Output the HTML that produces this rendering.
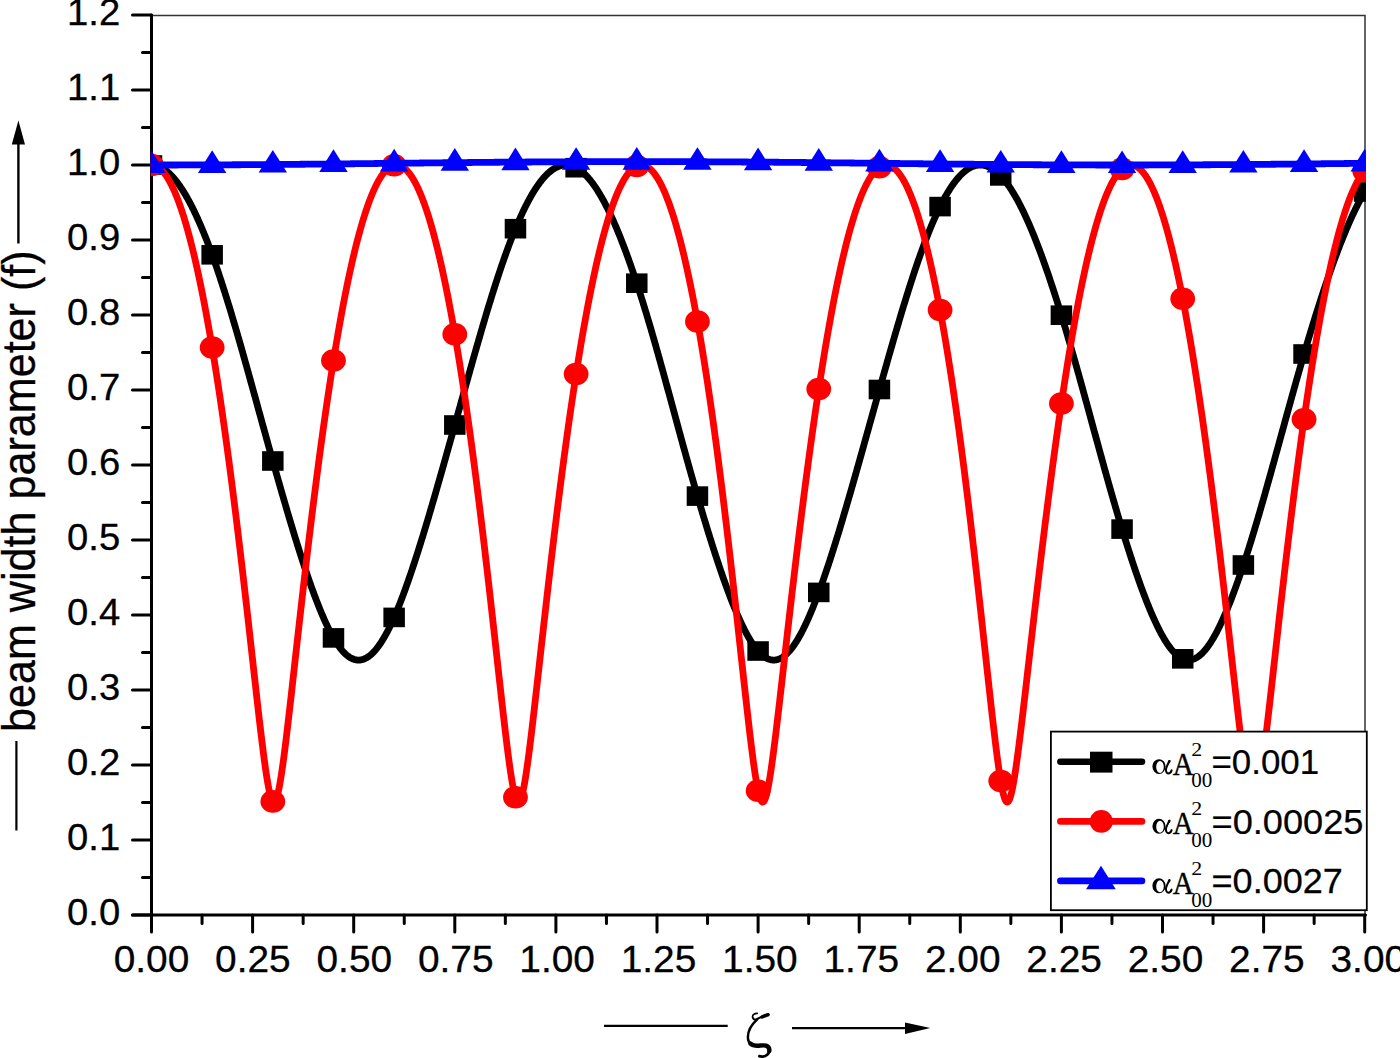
<!DOCTYPE html>
<html><head><meta charset="utf-8"><style>html,body{margin:0;padding:0;background:#fff;overflow:hidden;}svg{display:block;}</style></head>
<body>
<svg width="1400" height="1058" viewBox="0 0 1400 1058">
<rect width="1400" height="1058" fill="#fff"/>
<defs><clipPath id="pc"><rect x="150.7" y="15" width="1215.2" height="900"/></clipPath></defs>
<path d="M151.5,15.6 H1365 V915" fill="none" stroke="#333" stroke-width="1.5"/>
<path d="M132.5,15 H151.5 M132.5,90 H151.5 M132.5,165 H151.5 M132.5,240 H151.5 M132.5,315 H151.5 M132.5,390 H151.5 M132.5,465 H151.5 M132.5,540 H151.5 M132.5,615 H151.5 M132.5,690 H151.5 M132.5,765 H151.5 M132.5,840 H151.5 M132.5,915 H151.5 M142.5,52.5 H151.5 M142.5,127.5 H151.5 M142.5,202.5 H151.5 M142.5,277.5 H151.5 M142.5,352.5 H151.5 M142.5,427.5 H151.5 M142.5,502.5 H151.5 M142.5,577.5 H151.5 M142.5,652.5 H151.5 M142.5,727.5 H151.5 M142.5,802.5 H151.5 M142.5,877.5 H151.5 M151.50,915 V932 M252.60,915 V932 M353.70,915 V932 M454.80,915 V932 M555.90,915 V932 M657.00,915 V932 M758.10,915 V932 M859.20,915 V932 M960.30,915 V932 M1061.40,915 V932 M1162.50,915 V932 M1263.60,915 V932 M1364.70,915 V932 M202.05,915 V923.5 M303.15,915 V923.5 M404.25,915 V923.5 M505.35,915 V923.5 M606.45,915 V923.5 M707.55,915 V923.5 M808.65,915 V923.5 M909.75,915 V923.5 M1010.85,915 V923.5 M1111.95,915 V923.5 M1213.05,915 V923.5 M1314.15,915 V923.5" fill="none" stroke="#000" stroke-width="3" stroke-linecap="round"/>
<path d="M151.5,15 V915 M132.5,915 H1365.5" fill="none" stroke="#000" stroke-width="3" stroke-linecap="round"/>
<g font-family="Liberation Sans" font-size="37.5" fill="#000" stroke="#000" stroke-width="0.3"><text transform="translate(120.2,25.0) scale(1.02,1)" text-anchor="end">1.2</text><text transform="translate(120.2,100.0) scale(1.02,1)" text-anchor="end">1.1</text><text transform="translate(120.2,175.0) scale(1.02,1)" text-anchor="end">1.0</text><text transform="translate(120.2,250.0) scale(1.02,1)" text-anchor="end">0.9</text><text transform="translate(120.2,325.0) scale(1.02,1)" text-anchor="end">0.8</text><text transform="translate(120.2,400.0) scale(1.02,1)" text-anchor="end">0.7</text><text transform="translate(120.2,475.0) scale(1.02,1)" text-anchor="end">0.6</text><text transform="translate(120.2,550.0) scale(1.02,1)" text-anchor="end">0.5</text><text transform="translate(120.2,625.0) scale(1.02,1)" text-anchor="end">0.4</text><text transform="translate(120.2,700.0) scale(1.02,1)" text-anchor="end">0.3</text><text transform="translate(120.2,775.0) scale(1.02,1)" text-anchor="end">0.2</text><text transform="translate(120.2,850.0) scale(1.02,1)" text-anchor="end">0.1</text><text transform="translate(120.2,925.0) scale(1.02,1)" text-anchor="end">0.0</text><text transform="translate(151.50,971.5) scale(1.036,1)" text-anchor="middle">0.00</text><text transform="translate(252.90,971.5) scale(1.036,1)" text-anchor="middle">0.25</text><text transform="translate(354.30,971.5) scale(1.036,1)" text-anchor="middle">0.50</text><text transform="translate(455.70,971.5) scale(1.036,1)" text-anchor="middle">0.75</text><text transform="translate(557.10,971.5) scale(1.036,1)" text-anchor="middle">1.00</text><text transform="translate(658.50,971.5) scale(1.036,1)" text-anchor="middle">1.25</text><text transform="translate(759.90,971.5) scale(1.036,1)" text-anchor="middle">1.50</text><text transform="translate(861.30,971.5) scale(1.036,1)" text-anchor="middle">1.75</text><text transform="translate(962.70,971.5) scale(1.036,1)" text-anchor="middle">2.00</text><text transform="translate(1064.10,971.5) scale(1.036,1)" text-anchor="middle">2.25</text><text transform="translate(1165.50,971.5) scale(1.036,1)" text-anchor="middle">2.50</text><text transform="translate(1266.90,971.5) scale(1.036,1)" text-anchor="middle">2.75</text><text transform="translate(1368.30,971.5) scale(1.036,1)" text-anchor="middle">3.00</text></g>
<g clip-path="url(#pc)">
<path d="M147.46,165.45 L148.13,165.31 L148.81,165.20 L149.49,165.11 L150.17,165.05 L150.85,165.01 L151.53,165.00 L152.21,165.01 L152.89,165.05 L153.57,165.12 L154.24,165.21 L154.92,165.32 L155.60,165.46 L156.28,165.63 L156.96,165.81 L157.64,166.03 L158.32,166.27 L159.00,166.53 L159.68,166.82 L160.35,167.13 L161.03,167.46 L161.71,167.82 L162.39,168.21 L163.07,168.62 L163.75,169.05 L164.43,169.50 L165.11,169.98 L165.79,170.49 L166.46,171.01 L167.14,171.56 L167.82,172.14 L168.50,172.73 L169.18,173.35 L169.86,173.99 L170.54,174.66 L171.22,175.34 L171.90,176.05 L172.57,176.79 L173.25,177.54 L173.93,178.32 L174.61,179.12 L175.29,179.94 L175.97,180.79 L176.65,181.65 L177.33,182.54 L178.01,183.45 L178.68,184.38 L179.36,185.33 L180.04,186.30 L180.72,187.30 L181.40,188.32 L182.08,189.35 L182.76,190.41 L183.44,191.49 L184.12,192.59 L184.79,193.71 L185.47,194.85 L186.15,196.01 L186.83,197.19 L187.51,198.39 L188.19,199.62 L188.87,200.86 L189.55,202.12 L190.22,203.40 L190.90,204.70 L191.58,206.02 L192.26,207.36 L192.94,208.72 L193.62,210.10 L194.30,211.50 L194.98,212.92 L195.66,214.35 L196.33,215.81 L197.01,217.28 L197.69,218.77 L198.37,220.28 L199.05,221.81 L199.73,223.36 L200.41,224.93 L201.09,226.51 L201.77,228.11 L202.44,229.73 L203.12,231.37 L203.80,233.02 L204.48,234.69 L205.16,236.38 L205.84,238.09 L206.52,239.82 L207.20,241.56 L207.88,243.32 L208.55,245.09 L209.23,246.88 L209.91,248.69 L210.59,250.52 L211.27,252.36 L211.95,254.22 L212.63,256.09 L213.31,257.98 L213.99,259.89 L214.66,261.82 L215.34,263.76 L216.02,265.71 L216.70,267.69 L217.38,269.67 L218.06,271.68 L218.74,273.69 L219.42,275.73 L220.10,277.77 L220.77,279.83 L221.45,281.91 L222.13,284.00 L222.81,286.10 L223.49,288.22 L224.17,290.35 L224.85,292.49 L225.53,294.65 L226.20,296.81 L226.88,299.00 L227.56,301.19 L228.24,303.39 L228.92,305.61 L229.60,307.83 L230.28,310.07 L230.96,312.32 L231.64,314.58 L232.31,316.85 L232.99,319.13 L233.67,321.41 L234.35,323.71 L235.03,326.02 L235.71,328.34 L236.39,330.66 L237.07,333.00 L237.75,335.34 L238.42,337.69 L239.10,340.04 L239.78,342.41 L240.46,344.78 L241.14,347.16 L241.82,349.54 L242.50,351.93 L243.18,354.33 L243.86,356.73 L244.53,359.14 L245.21,361.56 L245.89,363.98 L246.57,366.40 L247.25,368.83 L247.93,371.26 L248.61,373.69 L249.29,376.13 L249.97,378.58 L250.64,381.02 L251.32,383.47 L252.00,385.92 L252.68,388.38 L253.36,390.83 L254.04,393.29 L254.72,395.75 L255.40,398.21 L256.08,400.67 L256.75,403.14 L257.43,405.60 L258.11,408.06 L258.79,410.53 L259.47,412.99 L260.15,415.45 L260.83,417.91 L261.51,420.37 L262.19,422.83 L262.86,425.29 L263.54,427.75 L264.22,430.20 L264.90,432.65 L265.58,435.10 L266.26,437.55 L266.94,439.99 L267.62,442.43 L268.29,444.87 L268.97,447.30 L269.65,449.73 L270.33,452.15 L271.01,454.57 L271.69,456.99 L272.37,459.40 L273.05,461.80 L273.73,464.21 L274.40,466.60 L275.08,469.00 L275.76,471.39 L276.44,473.78 L277.12,476.16 L277.80,478.54 L278.48,480.92 L279.16,483.29 L279.84,485.66 L280.51,488.02 L281.19,490.38 L281.87,492.73 L282.55,495.08 L283.23,497.42 L283.91,499.76 L284.59,502.09 L285.27,504.42 L285.95,506.73 L286.62,509.04 L287.30,511.35 L287.98,513.65 L288.66,515.94 L289.34,518.22 L290.02,520.49 L290.70,522.76 L291.38,525.02 L292.06,527.27 L292.73,529.51 L293.41,531.75 L294.09,533.97 L294.77,536.18 L295.45,538.39 L296.13,540.58 L296.81,542.77 L297.49,544.95 L298.17,547.11 L298.84,549.26 L299.52,551.41 L300.20,553.54 L300.88,555.66 L301.56,557.77 L302.24,559.86 L302.92,561.95 L303.60,564.02 L304.28,566.08 L304.95,568.12 L305.63,570.15 L306.31,572.17 L306.99,574.17 L307.67,576.16 L308.35,578.14 L309.03,580.10 L309.71,582.04 L310.38,583.97 L311.06,585.88 L311.74,587.78 L312.42,589.66 L313.10,591.52 L313.78,593.37 L314.46,595.20 L315.14,597.01 L315.82,598.80 L316.49,600.58 L317.17,602.33 L317.85,604.07 L318.53,605.78 L319.21,607.48 L319.89,609.16 L320.57,610.81 L321.25,612.45 L321.93,614.06 L322.60,615.65 L323.28,617.22 L323.96,618.77 L324.64,620.29 L325.32,621.80 L326.00,623.27 L326.68,624.73 L327.36,626.16 L328.04,627.56 L328.71,628.94 L329.39,630.30 L330.07,631.63 L330.75,632.93 L331.43,634.21 L332.11,635.46 L332.79,636.68 L333.47,637.88 L334.15,639.04 L334.82,640.18 L335.50,641.29 L336.18,642.36 L336.86,643.41 L337.54,644.43 L338.22,645.41 L338.90,646.36 L339.58,647.29 L340.26,648.18 L340.93,649.04 L341.61,649.87 L342.29,650.67 L342.97,651.43 L343.65,652.17 L344.33,652.87 L345.01,653.54 L345.69,654.17 L346.37,654.78 L347.04,655.35 L347.72,655.89 L348.40,656.40 L349.08,656.88 L349.76,657.32 L350.44,657.73 L351.12,658.11 L351.80,658.45 L352.47,658.76 L353.15,659.04 L353.83,659.28 L354.51,659.50 L355.19,659.68 L355.87,659.82 L356.55,659.93 L357.23,660.01 L357.91,660.06 L358.58,660.07 L359.26,660.06 L359.94,660.00 L360.62,659.92 L361.30,659.80 L361.98,659.65 L362.66,659.47 L363.34,659.25 L364.02,659.00 L364.69,658.72 L365.37,658.41 L366.05,658.06 L366.73,657.68 L367.41,657.27 L368.09,656.83 L368.77,656.36 L369.45,655.85 L370.13,655.32 L370.80,654.75 L371.48,654.15 L372.16,653.52 L372.84,652.86 L373.52,652.16 L374.20,651.44 L374.88,650.69 L375.56,649.90 L376.24,649.09 L376.91,648.24 L377.59,647.37 L378.27,646.47 L378.95,645.53 L379.63,644.57 L380.31,643.58 L380.99,642.56 L381.67,641.51 L382.35,640.44 L383.02,639.33 L383.70,638.20 L384.38,637.04 L385.06,635.85 L385.74,634.63 L386.42,633.39 L387.10,632.12 L387.78,630.82 L388.46,629.50 L389.13,628.15 L389.81,626.78 L390.49,625.37 L391.17,623.95 L391.85,622.49 L392.53,621.01 L393.21,619.51 L393.89,617.98 L394.56,616.42 L395.24,614.85 L395.92,613.25 L396.60,611.63 L397.28,609.99 L397.96,608.33 L398.64,606.65 L399.32,604.94 L400.00,603.22 L400.67,601.48 L401.35,599.72 L402.03,597.94 L402.71,596.14 L403.39,594.33 L404.07,592.49 L404.75,590.64 L405.43,588.77 L406.11,586.89 L406.78,584.99 L407.46,583.07 L408.14,581.14 L408.82,579.19 L409.50,577.22 L410.18,575.24 L410.86,573.25 L411.54,571.24 L412.22,569.22 L412.89,567.18 L413.57,565.13 L414.25,563.07 L414.93,560.99 L415.61,558.91 L416.29,556.81 L416.97,554.69 L417.65,552.57 L418.33,550.43 L419.00,548.28 L419.68,546.13 L420.36,543.96 L421.04,541.78 L421.72,539.59 L422.40,537.39 L423.08,535.18 L423.76,532.96 L424.44,530.73 L425.11,528.49 L425.79,526.24 L426.47,523.99 L427.15,521.73 L427.83,519.45 L428.51,517.17 L429.19,514.89 L429.87,512.59 L430.54,510.29 L431.22,507.98 L431.90,505.66 L432.58,503.34 L433.26,501.01 L433.94,498.68 L434.62,496.34 L435.30,493.99 L435.98,491.64 L436.65,489.28 L437.33,486.92 L438.01,484.55 L438.69,482.18 L439.37,479.80 L440.05,477.42 L440.73,475.04 L441.41,472.65 L442.09,470.25 L442.76,467.86 L443.44,465.46 L444.12,463.06 L444.80,460.65 L445.48,458.24 L446.16,455.83 L446.84,453.42 L447.52,451.00 L448.20,448.58 L448.87,446.16 L449.55,443.74 L450.23,441.32 L450.91,438.90 L451.59,436.47 L452.27,434.05 L452.95,431.62 L453.63,429.19 L454.31,426.77 L454.98,424.34 L455.66,421.91 L456.34,419.48 L457.02,417.05 L457.70,414.62 L458.38,412.18 L459.06,409.74 L459.74,407.31 L460.42,404.87 L461.09,402.43 L461.77,400.00 L462.45,397.56 L463.13,395.12 L463.81,392.69 L464.49,390.25 L465.17,387.82 L465.85,385.38 L466.53,382.95 L467.20,380.52 L467.88,378.10 L468.56,375.67 L469.24,373.25 L469.92,370.83 L470.60,368.42 L471.28,366.01 L471.96,363.60 L472.63,361.19 L473.31,358.79 L473.99,356.40 L474.67,354.01 L475.35,351.62 L476.03,349.24 L476.71,346.87 L477.39,344.50 L478.07,342.13 L478.74,339.78 L479.42,337.43 L480.10,335.08 L480.78,332.75 L481.46,330.42 L482.14,328.10 L482.82,325.78 L483.50,323.48 L484.18,321.18 L484.85,318.89 L485.53,316.61 L486.21,314.34 L486.89,312.08 L487.57,309.83 L488.25,307.59 L488.93,305.36 L489.61,303.13 L490.29,300.92 L490.96,298.72 L491.64,296.54 L492.32,294.36 L493.00,292.19 L493.68,290.04 L494.36,287.90 L495.04,285.77 L495.72,283.65 L496.40,281.55 L497.07,279.46 L497.75,277.38 L498.43,275.32 L499.11,273.27 L499.79,271.24 L500.47,269.22 L501.15,267.21 L501.83,265.22 L502.51,263.24 L503.18,261.28 L503.86,259.33 L504.54,257.40 L505.22,255.49 L505.90,253.59 L506.58,251.71 L507.26,249.85 L507.94,248.00 L508.62,246.17 L509.29,244.35 L509.97,242.56 L510.65,240.78 L511.33,239.02 L512.01,237.27 L512.69,235.55 L513.37,233.84 L514.05,232.16 L514.72,230.49 L515.40,228.84 L516.08,227.20 L516.76,225.59 L517.44,224.00 L518.12,222.42 L518.80,220.86 L519.48,219.32 L520.16,217.80 L520.83,216.30 L521.51,214.82 L522.19,213.36 L522.87,211.91 L523.55,210.49 L524.23,209.09 L524.91,207.70 L525.59,206.34 L526.27,205.00 L526.94,203.67 L527.62,202.37 L528.30,201.09 L528.98,199.83 L529.66,198.59 L530.34,197.37 L531.02,196.17 L531.70,194.99 L532.38,193.84 L533.05,192.70 L533.73,191.59 L534.41,190.50 L535.09,189.43 L535.77,188.38 L536.45,187.35 L537.13,186.35 L537.81,185.37 L538.49,184.41 L539.16,183.47 L539.84,182.55 L540.52,181.66 L541.20,180.79 L541.88,179.94 L542.56,179.12 L543.24,178.31 L543.92,177.53 L544.60,176.78 L545.27,176.04 L545.95,175.33 L546.63,174.65 L547.31,173.98 L547.99,173.34 L548.67,172.72 L549.35,172.13 L550.03,171.56 L550.71,171.01 L551.38,170.49 L552.06,169.99 L552.74,169.51 L553.42,169.06 L554.10,168.63 L554.78,168.23 L555.46,167.84 L556.14,167.49 L556.81,167.15 L557.49,166.84 L558.17,166.56 L558.85,166.30 L559.53,166.06 L560.21,165.85 L560.89,165.66 L561.57,165.49 L562.25,165.35 L562.92,165.23 L563.60,165.14 L564.28,165.07 L564.96,165.02 L565.64,165.00 L566.32,165.00 L567.00,165.03 L567.68,165.08 L568.36,165.16 L569.03,165.26 L569.71,165.38 L570.39,165.53 L571.07,165.70 L571.75,165.89 L572.43,166.11 L573.11,166.35 L573.79,166.62 L574.47,166.91 L575.14,167.22 L575.82,167.56 L576.50,167.92 L577.18,168.30 L577.86,168.71 L578.54,169.14 L579.22,169.60 L579.90,170.08 L580.58,170.58 L581.25,171.11 L581.93,171.65 L582.61,172.23 L583.29,172.82 L583.97,173.44 L584.65,174.08 L585.33,174.74 L586.01,175.43 L586.69,176.14 L587.36,176.87 L588.04,177.62 L588.72,178.40 L589.40,179.20 L590.08,180.02 L590.76,180.86 L591.44,181.73 L592.12,182.62 L592.80,183.52 L593.47,184.46 L594.15,185.41 L594.83,186.38 L595.51,187.38 L596.19,188.40 L596.87,189.43 L597.55,190.49 L598.23,191.58 L598.90,192.68 L599.58,193.80 L600.26,194.94 L600.94,196.11 L601.62,197.29 L602.30,198.50 L602.98,199.72 L603.66,200.96 L604.34,202.23 L605.01,203.51 L605.69,204.82 L606.37,206.14 L607.05,207.49 L607.73,208.85 L608.41,210.23 L609.09,211.63 L609.77,213.05 L610.45,214.49 L611.12,215.95 L611.80,217.42 L612.48,218.91 L613.16,220.43 L613.84,221.96 L614.52,223.50 L615.20,225.07 L615.88,226.65 L616.56,228.25 L617.23,229.87 L617.91,231.51 L618.59,233.16 L619.27,234.83 L619.95,236.51 L620.63,238.22 L621.31,239.93 L621.99,241.67 L622.67,243.42 L623.34,245.19 L624.02,246.97 L624.70,248.77 L625.38,250.58 L626.06,252.41 L626.74,254.26 L627.42,256.12 L628.10,257.99 L628.78,259.88 L629.45,261.78 L630.13,263.70 L630.81,265.63 L631.49,267.58 L632.17,269.54 L632.85,271.51 L633.53,273.50 L634.21,275.50 L634.89,277.51 L635.56,279.54 L636.24,281.58 L636.92,283.63 L637.60,285.70 L638.28,287.78 L638.96,289.88 L639.64,291.99 L640.32,294.11 L640.99,296.25 L641.67,298.41 L642.35,300.58 L643.03,302.76 L643.71,304.95 L644.39,307.16 L645.07,309.38 L645.75,311.62 L646.43,313.86 L647.10,316.12 L647.78,318.39 L648.46,320.67 L649.14,322.96 L649.82,325.27 L650.50,327.58 L651.18,329.90 L651.86,332.24 L652.54,334.58 L653.21,336.93 L653.89,339.29 L654.57,341.66 L655.25,344.04 L655.93,346.43 L656.61,348.83 L657.29,351.23 L657.97,353.64 L658.65,356.06 L659.32,358.48 L660.00,360.92 L660.68,363.35 L661.36,365.80 L662.04,368.25 L662.72,370.70 L663.40,373.16 L664.08,375.62 L664.76,378.09 L665.43,380.56 L666.11,383.04 L666.79,385.52 L667.47,388.00 L668.15,390.49 L668.83,392.97 L669.51,395.46 L670.19,397.96 L670.87,400.45 L671.54,402.94 L672.22,405.44 L672.90,407.94 L673.58,410.43 L674.26,412.93 L674.94,415.43 L675.62,417.93 L676.30,420.42 L676.97,422.92 L677.65,425.41 L678.33,427.90 L679.01,430.39 L679.69,432.88 L680.37,435.36 L681.05,437.84 L681.73,440.32 L682.41,442.80 L683.08,445.27 L683.76,447.73 L684.44,450.20 L685.12,452.65 L685.80,455.11 L686.48,457.55 L687.16,459.99 L687.84,462.43 L688.52,464.86 L689.19,467.28 L689.87,469.70 L690.55,472.11 L691.23,474.51 L691.91,476.91 L692.59,479.30 L693.27,481.67 L693.95,484.04 L694.63,486.41 L695.30,488.76 L695.98,491.10 L696.66,493.44 L697.34,495.76 L698.02,498.08 L698.70,500.39 L699.38,502.69 L700.06,504.99 L700.74,507.28 L701.41,509.56 L702.09,511.83 L702.77,514.10 L703.45,516.36 L704.13,518.61 L704.81,520.85 L705.49,523.09 L706.17,525.31 L706.85,527.53 L707.52,529.74 L708.20,531.94 L708.88,534.13 L709.56,536.31 L710.24,538.48 L710.92,540.64 L711.60,542.80 L712.28,544.94 L712.96,547.07 L713.63,549.19 L714.31,551.29 L714.99,553.39 L715.67,555.48 L716.35,557.55 L717.03,559.61 L717.71,561.66 L718.39,563.70 L719.06,565.72 L719.74,567.74 L720.42,569.73 L721.10,571.72 L721.78,573.69 L722.46,575.65 L723.14,577.59 L723.82,579.52 L724.50,581.43 L725.17,583.33 L725.85,585.21 L726.53,587.08 L727.21,588.93 L727.89,590.77 L728.57,592.59 L729.25,594.39 L729.93,596.18 L730.61,597.94 L731.28,599.69 L731.96,601.43 L732.64,603.14 L733.32,604.83 L734.00,606.51 L734.68,608.17 L735.36,609.80 L736.04,611.42 L736.72,613.02 L737.39,614.60 L738.07,616.15 L738.75,617.69 L739.43,619.20 L740.11,620.69 L740.79,622.16 L741.47,623.60 L742.15,625.03 L742.83,626.43 L743.50,627.80 L744.18,629.16 L744.86,630.48 L745.54,631.79 L746.22,633.07 L746.90,634.32 L747.58,635.54 L748.26,636.75 L748.94,637.92 L749.61,639.07 L750.29,640.19 L750.97,641.28 L751.65,642.35 L752.33,643.38 L753.01,644.39 L753.69,645.37 L754.37,646.32 L755.05,647.25 L755.72,648.14 L756.40,649.00 L757.08,649.83 L757.76,650.63 L758.44,651.40 L759.12,652.14 L759.80,652.85 L760.48,653.52 L761.15,654.17 L761.83,654.78 L762.51,655.36 L763.19,655.91 L763.87,656.42 L764.55,656.90 L765.23,657.35 L765.91,657.76 L766.59,658.14 L767.26,658.49 L767.94,658.80 L768.62,659.08 L769.30,659.32 L769.98,659.53 L770.66,659.71 L771.34,659.85 L772.02,659.96 L772.70,660.03 L773.37,660.07 L774.05,660.07 L774.73,660.04 L775.41,659.97 L776.09,659.87 L776.77,659.74 L777.45,659.57 L778.13,659.36 L778.81,659.13 L779.48,658.85 L780.16,658.55 L780.84,658.20 L781.52,657.83 L782.20,657.42 L782.88,656.98 L783.56,656.50 L784.24,655.99 L784.92,655.45 L785.59,654.87 L786.27,654.26 L786.95,653.62 L787.63,652.95 L788.31,652.24 L788.99,651.50 L789.67,650.73 L790.35,649.93 L791.03,649.10 L791.70,648.24 L792.38,647.34 L793.06,646.42 L793.74,645.47 L794.42,644.48 L795.10,643.47 L795.78,642.43 L796.46,641.36 L797.14,640.26 L797.81,639.14 L798.49,637.98 L799.17,636.80 L799.85,635.59 L800.53,634.36 L801.21,633.09 L801.89,631.81 L802.57,630.49 L803.24,629.15 L803.92,627.79 L804.60,626.40 L805.28,624.99 L805.96,623.55 L806.64,622.09 L807.32,620.61 L808.00,619.10 L808.68,617.57 L809.35,616.02 L810.03,614.44 L810.71,612.85 L811.39,611.23 L812.07,609.59 L812.75,607.93 L813.43,606.26 L814.11,604.56 L814.79,602.84 L815.46,601.10 L816.14,599.34 L816.82,597.57 L817.50,595.77 L818.18,593.96 L818.86,592.13 L819.54,590.29 L820.22,588.42 L820.90,586.54 L821.57,584.64 L822.25,582.73 L822.93,580.80 L823.61,578.85 L824.29,576.89 L824.97,574.91 L825.65,572.92 L826.33,570.92 L827.01,568.90 L827.68,566.87 L828.36,564.82 L829.04,562.76 L829.72,560.69 L830.40,558.60 L831.08,556.50 L831.76,554.39 L832.44,552.27 L833.12,550.13 L833.79,547.99 L834.47,545.83 L835.15,543.66 L835.83,541.48 L836.51,539.29 L837.19,537.09 L837.87,534.89 L838.55,532.67 L839.23,530.44 L839.90,528.20 L840.58,525.95 L841.26,523.70 L841.94,521.43 L842.62,519.16 L843.30,516.88 L843.98,514.59 L844.66,512.30 L845.33,510.00 L846.01,507.69 L846.69,505.37 L847.37,503.04 L848.05,500.71 L848.73,498.38 L849.41,496.04 L850.09,493.69 L850.77,491.33 L851.44,488.97 L852.12,486.61 L852.80,484.24 L853.48,481.86 L854.16,479.48 L854.84,477.10 L855.52,474.71 L856.20,472.32 L856.88,469.93 L857.55,467.53 L858.23,465.12 L858.91,462.72 L859.59,460.31 L860.27,457.90 L860.95,455.48 L861.63,453.06 L862.31,450.65 L862.99,448.22 L863.66,445.80 L864.34,443.38 L865.02,440.95 L865.70,438.52 L866.38,436.09 L867.06,433.67 L867.74,431.24 L868.42,428.80 L869.10,426.37 L869.77,423.94 L870.45,421.51 L871.13,419.08 L871.81,416.65 L872.49,414.22 L873.17,411.79 L873.85,409.36 L874.53,406.94 L875.21,404.51 L875.88,402.09 L876.56,399.67 L877.24,397.25 L877.92,394.83 L878.60,392.42 L879.28,390.00 L879.96,387.59 L880.64,385.18 L881.31,382.78 L881.99,380.37 L882.67,377.96 L883.35,375.56 L884.03,373.16 L884.71,370.76 L885.39,368.37 L886.07,365.97 L886.75,363.58 L887.42,361.20 L888.10,358.82 L888.78,356.44 L889.46,354.06 L890.14,351.69 L890.82,349.33 L891.50,346.97 L892.18,344.61 L892.86,342.26 L893.53,339.92 L894.21,337.58 L894.89,335.25 L895.57,332.92 L896.25,330.61 L896.93,328.29 L897.61,325.99 L898.29,323.69 L898.97,321.40 L899.64,319.12 L900.32,316.85 L901.00,314.58 L901.68,312.33 L902.36,310.08 L903.04,307.84 L903.72,305.61 L904.40,303.39 L905.08,301.18 L905.75,298.98 L906.43,296.80 L907.11,294.62 L907.79,292.45 L908.47,290.30 L909.15,288.15 L909.83,286.02 L910.51,283.90 L911.19,281.79 L911.86,279.70 L912.54,277.61 L913.22,275.54 L913.90,273.49 L914.58,271.44 L915.26,269.41 L915.94,267.40 L916.62,265.40 L917.30,263.41 L917.97,261.44 L918.65,259.48 L919.33,257.54 L920.01,255.61 L920.69,253.70 L921.37,251.80 L922.05,249.92 L922.73,248.06 L923.40,246.21 L924.08,244.38 L924.76,242.57 L925.44,240.77 L926.12,239.00 L926.80,237.24 L927.48,235.49 L928.16,233.77 L928.84,232.06 L929.51,230.37 L930.19,228.70 L930.87,227.05 L931.55,225.42 L932.23,223.80 L932.91,222.21 L933.59,220.64 L934.27,219.08 L934.95,217.55 L935.62,216.03 L936.30,214.54 L936.98,213.06 L937.66,211.61 L938.34,210.18 L939.02,208.76 L939.70,207.37 L940.38,206.00 L941.06,204.65 L941.73,203.33 L942.41,202.02 L943.09,200.73 L943.77,199.47 L944.45,198.22 L945.13,197.00 L945.81,195.80 L946.49,194.62 L947.17,193.46 L947.84,192.32 L948.52,191.21 L949.20,190.11 L949.88,189.04 L950.56,187.99 L951.24,186.97 L951.92,185.96 L952.60,184.98 L953.28,184.02 L953.95,183.09 L954.63,182.18 L955.31,181.28 L955.99,180.42 L956.67,179.57 L957.35,178.75 L958.03,177.95 L958.71,177.18 L959.39,176.43 L960.06,175.70 L960.74,175.00 L961.42,174.32 L962.10,173.66 L962.78,173.03 L963.46,172.42 L964.14,171.83 L964.82,171.27 L965.49,170.73 L966.17,170.22 L966.85,169.72 L967.53,169.26 L968.21,168.82 L968.89,168.40 L969.57,168.00 L970.25,167.63 L970.93,167.29 L971.60,166.97 L972.28,166.67 L972.96,166.40 L973.64,166.15 L974.32,165.93 L975.00,165.73 L975.68,165.55 L976.36,165.40 L977.04,165.27 L977.71,165.17 L978.39,165.09 L979.07,165.04 L979.75,165.01 L980.43,165.00 L981.11,165.02 L981.79,165.06 L982.47,165.13 L983.15,165.22 L983.82,165.34 L984.50,165.48 L985.18,165.64 L985.86,165.83 L986.54,166.04 L987.22,166.28 L987.90,166.54 L988.58,166.82 L989.26,167.13 L989.93,167.46 L990.61,167.82 L991.29,168.20 L991.97,168.60 L992.65,169.03 L993.33,169.48 L994.01,169.95 L994.69,170.45 L995.37,170.97 L996.04,171.52 L996.72,172.08 L997.40,172.67 L998.08,173.29 L998.76,173.92 L999.44,174.58 L1000.12,175.27 L1000.80,175.97 L1001.48,176.70 L1002.15,177.45 L1002.83,178.22 L1003.51,179.02 L1004.19,179.84 L1004.87,180.68 L1005.55,181.54 L1006.23,182.42 L1006.91,183.33 L1007.58,184.25 L1008.26,185.20 L1008.94,186.17 L1009.62,187.17 L1010.30,188.18 L1010.98,189.21 L1011.66,190.27 L1012.34,191.35 L1013.02,192.44 L1013.69,193.56 L1014.37,194.70 L1015.05,195.86 L1015.73,197.04 L1016.41,198.24 L1017.09,199.46 L1017.77,200.70 L1018.45,201.96 L1019.13,203.23 L1019.80,204.53 L1020.48,205.85 L1021.16,207.19 L1021.84,208.54 L1022.52,209.92 L1023.20,211.31 L1023.88,212.72 L1024.56,214.16 L1025.24,215.61 L1025.91,217.07 L1026.59,218.56 L1027.27,220.06 L1027.95,221.58 L1028.63,223.12 L1029.31,224.68 L1029.99,226.25 L1030.67,227.84 L1031.35,229.45 L1032.02,231.08 L1032.70,232.72 L1033.38,234.38 L1034.06,236.05 L1034.74,237.74 L1035.42,239.45 L1036.10,241.17 L1036.78,242.91 L1037.46,244.66 L1038.13,246.43 L1038.81,248.22 L1039.49,250.02 L1040.17,251.83 L1040.85,253.66 L1041.53,255.50 L1042.21,257.36 L1042.89,259.24 L1043.57,261.12 L1044.24,263.02 L1044.92,264.94 L1045.60,266.87 L1046.28,268.81 L1046.96,270.76 L1047.64,272.73 L1048.32,274.71 L1049.00,276.71 L1049.67,278.71 L1050.35,280.73 L1051.03,282.76 L1051.71,284.81 L1052.39,286.86 L1053.07,288.93 L1053.75,291.01 L1054.43,293.10 L1055.11,295.20 L1055.78,297.31 L1056.46,299.44 L1057.14,301.57 L1057.82,303.72 L1058.50,305.88 L1059.18,308.04 L1059.86,310.22 L1060.54,312.41 L1061.22,314.60 L1061.89,316.81 L1062.57,319.03 L1063.25,321.26 L1063.93,323.50 L1064.61,325.75 L1065.29,328.02 L1065.97,330.29 L1066.65,332.58 L1067.33,334.87 L1068.00,337.18 L1068.68,339.49 L1069.36,341.82 L1070.04,344.15 L1070.72,346.49 L1071.40,348.84 L1072.08,351.20 L1072.76,353.57 L1073.44,355.95 L1074.11,358.33 L1074.79,360.72 L1075.47,363.12 L1076.15,365.52 L1076.83,367.93 L1077.51,370.35 L1078.19,372.77 L1078.87,375.20 L1079.55,377.64 L1080.22,380.08 L1080.90,382.52 L1081.58,384.97 L1082.26,387.43 L1082.94,389.88 L1083.62,392.35 L1084.30,394.81 L1084.98,397.28 L1085.66,399.75 L1086.33,402.23 L1087.01,404.70 L1087.69,407.18 L1088.37,409.66 L1089.05,412.14 L1089.73,414.63 L1090.41,417.11 L1091.09,419.60 L1091.76,422.09 L1092.44,424.57 L1093.12,427.06 L1093.80,429.54 L1094.48,432.03 L1095.16,434.51 L1095.84,437.00 L1096.52,439.48 L1097.20,441.96 L1097.87,444.44 L1098.55,446.91 L1099.23,449.38 L1099.91,451.85 L1100.59,454.32 L1101.27,456.78 L1101.95,459.24 L1102.63,461.70 L1103.31,464.15 L1103.98,466.60 L1104.66,469.04 L1105.34,471.48 L1106.02,473.91 L1106.70,476.33 L1107.38,478.75 L1108.06,481.17 L1108.74,483.57 L1109.42,485.97 L1110.09,488.37 L1110.77,490.75 L1111.45,493.13 L1112.13,495.50 L1112.81,497.86 L1113.49,500.22 L1114.17,502.56 L1114.85,504.90 L1115.53,507.23 L1116.20,509.54 L1116.88,511.85 L1117.56,514.15 L1118.24,516.44 L1118.92,518.71 L1119.60,520.98 L1120.28,523.23 L1120.96,525.48 L1121.64,527.71 L1122.31,529.93 L1122.99,532.14 L1123.67,534.34 L1124.35,536.53 L1125.03,538.71 L1125.71,540.88 L1126.39,543.04 L1127.07,545.19 L1127.74,547.32 L1128.42,549.45 L1129.10,551.57 L1129.78,553.67 L1130.46,555.76 L1131.14,557.84 L1131.82,559.91 L1132.50,561.96 L1133.18,564.00 L1133.85,566.03 L1134.53,568.04 L1135.21,570.05 L1135.89,572.03 L1136.57,574.01 L1137.25,575.97 L1137.93,577.91 L1138.61,579.84 L1139.29,581.75 L1139.96,583.65 L1140.64,585.54 L1141.32,587.40 L1142.00,589.26 L1142.68,591.09 L1143.36,592.91 L1144.04,594.71 L1144.72,596.49 L1145.40,598.26 L1146.07,600.01 L1146.75,601.74 L1147.43,603.45 L1148.11,605.14 L1148.79,606.81 L1149.47,608.47 L1150.15,610.10 L1150.83,611.71 L1151.51,613.31 L1152.18,614.88 L1152.86,616.43 L1153.54,617.96 L1154.22,619.47 L1154.90,620.96 L1155.58,622.42 L1156.26,623.86 L1156.94,625.28 L1157.62,626.67 L1158.29,628.04 L1158.97,629.39 L1159.65,630.71 L1160.33,632.01 L1161.01,633.28 L1161.69,634.52 L1162.37,635.74 L1163.05,636.94 L1163.73,638.11 L1164.40,639.25 L1165.08,640.36 L1165.76,641.45 L1166.44,642.51 L1167.12,643.54 L1167.80,644.54 L1168.48,645.51 L1169.16,646.46 L1169.83,647.37 L1170.51,648.26 L1171.19,649.11 L1171.87,649.94 L1172.55,650.73 L1173.23,651.49 L1173.91,652.23 L1174.59,652.93 L1175.27,653.60 L1175.94,654.24 L1176.62,654.84 L1177.30,655.42 L1177.98,655.96 L1178.66,656.47 L1179.34,656.94 L1180.02,657.39 L1180.70,657.79 L1181.38,658.17 L1182.05,658.51 L1182.73,658.82 L1183.41,659.10 L1184.09,659.34 L1184.77,659.55 L1185.45,659.72 L1186.13,659.86 L1186.81,659.96 L1187.49,660.03 L1188.16,660.07 L1188.84,660.07 L1189.52,660.04 L1190.20,659.97 L1190.88,659.87 L1191.56,659.74 L1192.24,659.57 L1192.92,659.36 L1193.60,659.13 L1194.27,658.85 L1194.95,658.55 L1195.63,658.21 L1196.31,657.84 L1196.99,657.43 L1197.67,656.99 L1198.35,656.52 L1199.03,656.01 L1199.71,655.47 L1200.38,654.90 L1201.06,654.30 L1201.74,653.66 L1202.42,653.00 L1203.10,652.30 L1203.78,651.56 L1204.46,650.80 L1205.14,650.01 L1205.82,649.18 L1206.49,648.33 L1207.17,647.44 L1207.85,646.53 L1208.53,645.59 L1209.21,644.61 L1209.89,643.61 L1210.57,642.58 L1211.25,641.52 L1211.92,640.43 L1212.60,639.31 L1213.28,638.17 L1213.96,637.00 L1214.64,635.80 L1215.32,634.58 L1216.00,633.33 L1216.68,632.06 L1217.36,630.75 L1218.03,629.43 L1218.71,628.08 L1219.39,626.70 L1220.07,625.30 L1220.75,623.88 L1221.43,622.43 L1222.11,620.96 L1222.79,619.47 L1223.47,617.96 L1224.14,616.42 L1224.82,614.86 L1225.50,613.28 L1226.18,611.68 L1226.86,610.06 L1227.54,608.42 L1228.22,606.75 L1228.90,605.07 L1229.58,603.37 L1230.25,601.65 L1230.93,599.91 L1231.61,598.15 L1232.29,596.37 L1232.97,594.58 L1233.65,592.76 L1234.33,590.93 L1235.01,589.08 L1235.69,587.22 L1236.36,585.34 L1237.04,583.44 L1237.72,581.53 L1238.40,579.60 L1239.08,577.66 L1239.76,575.70 L1240.44,573.72 L1241.12,571.73 L1241.80,569.73 L1242.47,567.71 L1243.15,565.68 L1243.83,563.64 L1244.51,561.58 L1245.19,559.50 L1245.87,557.41 L1246.55,555.31 L1247.23,553.19 L1247.91,551.05 L1248.58,548.91 L1249.26,546.75 L1249.94,544.58 L1250.62,542.39 L1251.30,540.19 L1251.98,537.98 L1252.66,535.76 L1253.34,533.53 L1254.01,531.28 L1254.69,529.03 L1255.37,526.76 L1256.05,524.48 L1256.73,522.19 L1257.41,519.90 L1258.09,517.59 L1258.77,515.27 L1259.45,512.95 L1260.12,510.62 L1260.80,508.27 L1261.48,505.92 L1262.16,503.57 L1262.84,501.20 L1263.52,498.83 L1264.20,496.45 L1264.88,494.06 L1265.56,491.67 L1266.23,489.27 L1266.91,486.86 L1267.59,484.45 L1268.27,482.03 L1268.95,479.61 L1269.63,477.18 L1270.31,474.75 L1270.99,472.32 L1271.67,469.88 L1272.34,467.43 L1273.02,464.99 L1273.70,462.54 L1274.38,460.08 L1275.06,457.63 L1275.74,455.17 L1276.42,452.71 L1277.10,450.25 L1277.78,447.79 L1278.45,445.32 L1279.13,442.86 L1279.81,440.39 L1280.49,437.92 L1281.17,435.45 L1281.85,432.99 L1282.53,430.52 L1283.21,428.05 L1283.89,425.59 L1284.56,423.12 L1285.24,420.66 L1285.92,418.20 L1286.60,415.74 L1287.28,413.28 L1287.96,410.83 L1288.64,408.37 L1289.32,405.92 L1290.00,403.48 L1290.67,401.03 L1291.35,398.59 L1292.03,396.16 L1292.71,393.73 L1293.39,391.30 L1294.07,388.88 L1294.75,386.46 L1295.43,384.05 L1296.10,381.64 L1296.78,379.24 L1297.46,376.85 L1298.14,374.46 L1298.82,372.08 L1299.50,369.70 L1300.18,367.33 L1300.86,364.97 L1301.54,362.62 L1302.21,360.27 L1302.89,357.93 L1303.57,355.60 L1304.25,353.28 L1304.93,350.96 L1305.61,348.66 L1306.29,346.36 L1306.97,344.07 L1307.65,341.79 L1308.32,339.52 L1309.00,337.26 L1309.68,335.00 L1310.36,332.76 L1311.04,330.52 L1311.72,328.29 L1312.40,326.07 L1313.08,323.86 L1313.76,321.66 L1314.43,319.47 L1315.11,317.29 L1315.79,315.12 L1316.47,312.96 L1317.15,310.81 L1317.83,308.67 L1318.51,306.54 L1319.19,304.41 L1319.87,302.30 L1320.54,300.20 L1321.22,298.11 L1321.90,296.03 L1322.58,293.96 L1323.26,291.91 L1323.94,289.86 L1324.62,287.82 L1325.30,285.80 L1325.98,283.79 L1326.65,281.78 L1327.33,279.79 L1328.01,277.82 L1328.69,275.85 L1329.37,273.89 L1330.05,271.95 L1330.73,270.02 L1331.41,268.10 L1332.08,266.20 L1332.76,264.30 L1333.44,262.42 L1334.12,260.55 L1334.80,258.70 L1335.48,256.85 L1336.16,255.02 L1336.84,253.21 L1337.52,251.41 L1338.19,249.62 L1338.87,247.84 L1339.55,246.08 L1340.23,244.33 L1340.91,242.60 L1341.59,240.88 L1342.27,239.18 L1342.95,237.49 L1343.63,235.81 L1344.30,234.15 L1344.98,232.50 L1345.66,230.87 L1346.34,229.26 L1347.02,227.66 L1347.70,226.07 L1348.38,224.51 L1349.06,222.95 L1349.74,221.42 L1350.41,219.90 L1351.09,218.40 L1351.77,216.91 L1352.45,215.44 L1353.13,213.99 L1353.81,212.55 L1354.49,211.13 L1355.17,209.73 L1355.85,208.35 L1356.52,206.98 L1357.20,205.63 L1357.88,204.30 L1358.56,202.99 L1359.24,201.70 L1359.92,200.43 L1360.60,199.17 L1361.28,197.93 L1361.96,196.72 L1362.63,195.52 L1363.31,194.34 L1363.99,193.19 L1364.67,192.05 L1365.35,190.93 L1366.03,189.84 L1366.71,188.76 L1367.39,187.71 L1368.07,186.69 L1368.74,185.68" fill="none" stroke="#000" stroke-width="6.8" stroke-linejoin="round" stroke-linecap="round"/>
<rect x="140.75" y="155.20" width="21.5" height="19.6" fill="#000"/>
<rect x="201.41" y="245.00" width="21.5" height="19.6" fill="#000"/>
<rect x="262.07" y="451.20" width="21.5" height="19.6" fill="#000"/>
<rect x="322.73" y="628.10" width="21.5" height="19.6" fill="#000"/>
<rect x="383.39" y="607.60" width="21.5" height="19.6" fill="#000"/>
<rect x="444.05" y="415.20" width="21.5" height="19.6" fill="#000"/>
<rect x="504.71" y="218.90" width="21.5" height="19.6" fill="#000"/>
<rect x="565.37" y="157.91" width="21.5" height="19.6" fill="#000"/>
<rect x="626.03" y="273.40" width="21.5" height="19.6" fill="#000"/>
<rect x="686.69" y="486.30" width="21.5" height="19.6" fill="#000"/>
<rect x="747.35" y="641.22" width="21.5" height="19.6" fill="#000"/>
<rect x="808.01" y="582.60" width="21.5" height="19.6" fill="#000"/>
<rect x="868.67" y="379.70" width="21.5" height="19.6" fill="#000"/>
<rect x="929.33" y="196.80" width="21.5" height="19.6" fill="#000"/>
<rect x="989.99" y="166.11" width="21.5" height="19.6" fill="#000"/>
<rect x="1050.65" y="305.40" width="21.5" height="19.6" fill="#000"/>
<rect x="1111.31" y="519.30" width="21.5" height="19.6" fill="#000"/>
<rect x="1171.97" y="649.02" width="21.5" height="19.6" fill="#000"/>
<rect x="1232.63" y="555.20" width="21.5" height="19.6" fill="#000"/>
<rect x="1293.29" y="344.20" width="21.5" height="19.6" fill="#000"/>
<rect x="1353.95" y="182.20" width="21.5" height="19.6" fill="#000"/>
<path d="M147.46,165.82 L148.13,165.57 L148.81,165.36 L149.49,165.20 L150.17,165.09 L150.85,165.02 L151.53,165.00 L152.21,165.03 L152.89,165.10 L153.57,165.21 L154.24,165.38 L154.92,165.59 L155.60,165.84 L156.28,166.14 L156.96,166.49 L157.64,166.89 L158.32,167.33 L159.00,167.81 L159.68,168.34 L160.35,168.92 L161.03,169.55 L161.71,170.22 L162.39,170.93 L163.07,171.70 L163.75,172.50 L164.43,173.36 L165.11,174.26 L165.79,175.20 L166.46,176.19 L167.14,177.23 L167.82,178.31 L168.50,179.44 L169.18,180.62 L169.86,181.84 L170.54,183.10 L171.22,184.42 L171.90,185.77 L172.57,187.18 L173.25,188.63 L173.93,190.12 L174.61,191.66 L175.29,193.25 L175.97,194.88 L176.65,196.56 L177.33,198.28 L178.01,200.05 L178.68,201.87 L179.36,203.73 L180.04,205.63 L180.72,207.58 L181.40,209.58 L182.08,211.62 L182.76,213.71 L183.44,215.84 L184.12,218.02 L184.79,220.25 L185.47,222.52 L186.15,224.83 L186.83,227.19 L187.51,229.60 L188.19,232.05 L188.87,234.55 L189.55,237.09 L190.22,239.68 L190.90,242.32 L191.58,244.99 L192.26,247.72 L192.94,250.49 L193.62,253.30 L194.30,256.16 L194.98,259.07 L195.66,262.02 L196.33,265.02 L197.01,268.06 L197.69,271.14 L198.37,274.27 L199.05,277.45 L199.73,280.67 L200.41,283.94 L201.09,287.25 L201.77,290.61 L202.44,294.01 L203.12,297.46 L203.80,300.95 L204.48,304.48 L205.16,308.07 L205.84,311.69 L206.52,315.36 L207.20,319.08 L207.88,322.84 L208.55,326.64 L209.23,330.49 L209.91,334.39 L210.59,338.33 L211.27,342.31 L211.95,346.34 L212.63,350.41 L213.31,354.52 L213.99,358.68 L214.66,362.89 L215.34,367.14 L216.02,371.43 L216.70,375.76 L217.38,380.14 L218.06,384.56 L218.74,389.02 L219.42,393.53 L220.10,398.08 L220.77,402.67 L221.45,407.31 L222.13,411.99 L222.81,416.71 L223.49,421.47 L224.17,426.27 L224.85,431.12 L225.53,436.01 L226.20,440.94 L226.88,445.91 L227.56,450.92 L228.24,455.97 L228.92,461.06 L229.60,466.19 L230.28,471.36 L230.96,476.57 L231.64,481.82 L232.31,487.11 L232.99,492.44 L233.67,497.81 L234.35,503.21 L235.03,508.65 L235.71,514.12 L236.39,519.64 L237.07,525.19 L237.75,530.77 L238.42,536.39 L239.10,542.04 L239.78,547.72 L240.46,553.44 L241.14,559.19 L241.82,564.97 L242.50,570.78 L243.18,576.62 L243.86,582.49 L244.53,588.38 L245.21,594.30 L245.89,600.24 L246.57,606.21 L247.25,612.20 L247.93,618.21 L248.61,624.23 L249.29,630.27 L249.97,636.33 L250.64,642.39 L251.32,648.47 L252.00,654.55 L252.68,660.64 L253.36,666.72 L254.04,672.80 L254.72,678.87 L255.40,684.93 L256.08,690.98 L256.75,697.00 L257.43,702.99 L258.11,708.94 L258.79,714.85 L259.47,720.71 L260.15,726.51 L260.83,732.23 L261.51,737.87 L262.19,743.42 L262.86,748.85 L263.54,754.16 L264.22,759.32 L264.90,764.31 L265.58,769.12 L266.26,773.72 L266.94,778.08 L267.62,782.17 L268.29,785.97 L268.97,789.44 L269.65,792.54 L270.33,795.26 L271.01,797.56 L271.69,799.41 L272.37,800.78 L273.05,801.66 L273.73,802.04 L274.40,801.90 L275.08,801.25 L275.76,800.11 L276.44,798.48 L277.12,796.39 L277.80,793.86 L278.48,790.93 L279.16,787.63 L279.84,783.98 L280.51,780.02 L281.19,775.79 L281.87,771.30 L282.55,766.58 L283.23,761.67 L283.91,756.59 L284.59,751.35 L285.27,745.97 L285.95,740.48 L286.62,734.88 L287.30,729.19 L287.98,723.43 L288.66,717.60 L289.34,711.71 L290.02,705.77 L290.70,699.80 L291.38,693.79 L292.06,687.76 L292.73,681.71 L293.41,675.64 L294.09,669.57 L294.77,663.48 L295.45,657.40 L296.13,651.32 L296.81,645.24 L297.49,639.17 L298.17,633.11 L298.84,627.06 L299.52,621.03 L300.20,615.01 L300.88,609.01 L301.56,603.04 L302.24,597.08 L302.92,591.15 L303.60,585.25 L304.28,579.37 L304.95,573.52 L305.63,567.70 L306.31,561.90 L306.99,556.14 L307.67,550.41 L308.35,544.71 L309.03,539.04 L309.71,533.41 L310.38,527.81 L311.06,522.24 L311.74,516.72 L312.42,511.22 L313.10,505.77 L313.78,500.35 L314.46,494.96 L315.14,489.62 L315.82,484.31 L316.49,479.05 L317.17,473.82 L317.85,468.63 L318.53,463.48 L319.21,458.37 L319.89,453.30 L320.57,448.27 L321.25,443.28 L321.93,438.34 L322.60,433.43 L323.28,428.57 L323.96,423.74 L324.64,418.96 L325.32,414.22 L326.00,409.52 L326.68,404.87 L327.36,400.26 L328.04,395.69 L328.71,391.16 L329.39,386.68 L330.07,382.24 L330.75,377.84 L331.43,373.48 L332.11,369.17 L332.79,364.91 L333.47,360.68 L334.15,356.50 L334.82,352.37 L335.50,348.28 L336.18,344.23 L336.86,340.23 L337.54,336.27 L338.22,332.35 L338.90,328.48 L339.58,324.66 L340.26,320.88 L340.93,317.14 L341.61,313.45 L342.29,309.80 L342.97,306.20 L343.65,302.64 L344.33,299.13 L345.01,295.66 L345.69,292.24 L346.37,288.86 L347.04,285.52 L347.72,282.24 L348.40,278.99 L349.08,275.80 L349.76,272.64 L350.44,269.54 L351.12,266.47 L351.80,263.46 L352.47,260.48 L353.15,257.56 L353.83,254.68 L354.51,251.84 L355.19,249.05 L355.87,246.30 L356.55,243.60 L357.23,240.95 L357.91,238.34 L358.58,235.78 L359.26,233.26 L359.94,230.78 L360.62,228.36 L361.30,225.97 L361.98,223.64 L362.66,221.35 L363.34,219.10 L364.02,216.90 L364.69,214.75 L365.37,212.64 L366.05,210.57 L366.73,208.56 L367.41,206.58 L368.09,204.66 L368.77,202.78 L369.45,200.94 L370.13,199.15 L370.80,197.41 L371.48,195.71 L372.16,194.06 L372.84,192.45 L373.52,190.89 L374.20,189.37 L374.88,187.90 L375.56,186.48 L376.24,185.10 L376.91,183.77 L377.59,182.48 L378.27,181.24 L378.95,180.04 L379.63,178.89 L380.31,177.79 L380.99,176.73 L381.67,175.72 L382.35,174.75 L383.02,173.83 L383.70,172.95 L384.38,172.12 L385.06,171.34 L385.74,170.60 L386.42,169.91 L387.10,169.26 L387.78,168.66 L388.46,168.10 L389.13,167.59 L389.81,167.13 L390.49,166.71 L391.17,166.34 L391.85,166.01 L392.53,165.73 L393.21,165.49 L393.89,165.30 L394.56,165.16 L395.24,165.06 L395.92,165.01 L396.60,165.00 L397.28,165.04 L397.96,165.13 L398.64,165.26 L399.32,165.43 L400.00,165.66 L400.67,165.93 L401.35,166.24 L402.03,166.60 L402.71,167.00 L403.39,167.46 L404.07,167.95 L404.75,168.50 L405.43,169.08 L406.11,169.72 L406.78,170.40 L407.46,171.12 L408.14,171.90 L408.82,172.71 L409.50,173.58 L410.18,174.48 L410.86,175.44 L411.54,176.44 L412.22,177.49 L412.89,178.58 L413.57,179.71 L414.25,180.90 L414.93,182.13 L415.61,183.40 L416.29,184.72 L416.97,186.09 L417.65,187.50 L418.33,188.96 L419.00,190.46 L419.68,192.01 L420.36,193.60 L421.04,195.25 L421.72,196.93 L422.40,198.66 L423.08,200.44 L423.76,202.26 L424.44,204.13 L425.11,206.05 L425.79,208.01 L426.47,210.01 L427.15,212.06 L427.83,214.16 L428.51,216.30 L429.19,218.49 L429.87,220.73 L430.54,223.01 L431.22,225.33 L431.90,227.70 L432.58,230.12 L433.26,232.58 L433.94,235.09 L434.62,237.64 L435.30,240.24 L435.98,242.88 L436.65,245.57 L437.33,248.30 L438.01,251.08 L438.69,253.91 L439.37,256.78 L440.05,259.70 L440.73,262.66 L441.41,265.66 L442.09,268.72 L442.76,271.81 L443.44,274.96 L444.12,278.14 L444.80,281.38 L445.48,284.65 L446.16,287.98 L446.84,291.35 L447.52,294.76 L448.20,298.22 L448.87,301.72 L449.55,305.27 L450.23,308.86 L450.91,312.50 L451.59,316.18 L452.27,319.91 L452.95,323.68 L453.63,327.50 L454.31,331.36 L454.98,335.26 L455.66,339.22 L456.34,343.21 L457.02,347.26 L457.70,351.35 L458.38,355.48 L459.06,359.66 L459.74,363.89 L460.42,368.16 L461.09,372.48 L461.77,376.84 L462.45,381.25 L463.13,385.71 L463.81,390.21 L464.49,394.75 L465.17,399.34 L465.85,403.97 L466.53,408.65 L467.20,413.37 L467.88,418.13 L468.56,422.94 L469.24,427.79 L469.92,432.69 L470.60,437.63 L471.28,442.61 L471.96,447.64 L472.63,452.70 L473.31,457.81 L473.99,462.96 L474.67,468.15 L475.35,473.39 L476.03,478.66 L476.71,483.97 L477.39,489.33 L478.07,494.72 L478.74,500.15 L479.42,505.62 L480.10,511.13 L480.78,516.68 L481.46,522.26 L482.14,527.88 L482.82,533.53 L483.50,539.22 L484.18,544.94 L484.85,550.70 L485.53,556.49 L486.21,562.31 L486.89,568.16 L487.57,574.04 L488.25,579.95 L488.93,585.89 L489.61,591.85 L490.29,597.84 L490.96,603.85 L491.64,609.88 L492.32,615.93 L493.00,622.00 L493.68,628.09 L494.36,634.18 L495.04,640.30 L495.72,646.41 L496.40,652.54 L497.07,658.67 L497.75,664.80 L498.43,670.92 L499.11,677.03 L499.79,683.14 L500.47,689.22 L501.15,695.28 L501.83,701.31 L502.51,707.31 L503.18,713.26 L503.86,719.16 L504.54,725.00 L505.22,730.76 L505.90,736.44 L506.58,742.03 L507.26,747.51 L507.94,752.86 L508.62,758.07 L509.29,763.11 L509.97,767.97 L510.65,772.62 L511.33,777.04 L512.01,781.20 L512.69,785.07 L513.37,788.62 L514.05,791.81 L514.72,794.62 L515.40,797.02 L516.08,798.98 L516.76,800.47 L517.44,801.48 L518.12,801.99 L518.80,801.99 L519.48,801.48 L520.16,800.48 L520.83,798.98 L521.51,797.03 L522.19,794.63 L522.87,791.83 L523.55,788.64 L524.23,785.10 L524.91,781.25 L525.59,777.11 L526.27,772.71 L526.94,768.08 L527.62,763.25 L528.30,758.24 L528.98,753.07 L529.66,747.75 L530.34,742.32 L531.02,736.77 L531.70,731.14 L532.38,725.42 L533.05,719.63 L533.73,713.79 L534.41,707.89 L535.09,701.95 L535.77,695.98 L536.45,689.98 L537.13,683.96 L537.81,677.92 L538.49,671.87 L539.16,665.82 L539.84,659.75 L540.52,653.69 L541.20,647.64 L541.88,641.59 L542.56,635.55 L543.24,629.52 L543.92,623.50 L544.60,617.50 L545.27,611.52 L545.95,605.56 L546.63,599.62 L547.31,593.70 L547.99,587.80 L548.67,581.94 L549.35,576.09 L550.03,570.28 L550.71,564.49 L551.38,558.74 L552.06,553.01 L552.74,547.32 L553.42,541.66 L554.10,536.03 L554.78,530.43 L555.46,524.87 L556.14,519.34 L556.81,513.85 L557.49,508.40 L558.17,502.98 L558.85,497.59 L559.53,492.25 L560.21,486.94 L560.89,481.67 L561.57,476.44 L562.25,471.25 L562.92,466.09 L563.60,460.98 L564.28,455.90 L564.96,450.87 L565.64,445.87 L566.32,440.92 L567.00,436.00 L567.68,431.13 L568.36,426.30 L569.03,421.50 L569.71,416.75 L570.39,412.05 L571.07,407.38 L571.75,402.76 L572.43,398.17 L573.11,393.63 L573.79,389.13 L574.47,384.68 L575.14,380.27 L575.82,375.90 L576.50,371.57 L577.18,367.29 L577.86,363.05 L578.54,358.85 L579.22,354.70 L579.90,350.59 L580.58,346.52 L581.25,342.50 L581.93,338.53 L582.61,334.59 L583.29,330.71 L583.97,326.86 L584.65,323.06 L585.33,319.31 L586.01,315.59 L586.69,311.93 L587.36,308.31 L588.04,304.73 L588.72,301.20 L589.40,297.71 L590.08,294.26 L590.76,290.86 L591.44,287.51 L592.12,284.20 L592.80,280.94 L593.47,277.72 L594.15,274.54 L594.83,271.41 L595.51,268.33 L596.19,265.29 L596.87,262.29 L597.55,259.34 L598.23,256.44 L598.90,253.58 L599.58,250.77 L600.26,248.00 L600.94,245.27 L601.62,242.59 L602.30,239.96 L602.98,237.37 L603.66,234.83 L604.34,232.33 L605.01,229.88 L605.69,227.47 L606.37,225.11 L607.05,222.80 L607.73,220.52 L608.41,218.30 L609.09,216.12 L609.77,213.98 L610.45,211.89 L611.12,209.85 L611.80,207.85 L612.48,205.90 L613.16,203.99 L613.84,202.13 L614.52,200.31 L615.20,198.54 L615.88,196.81 L616.56,195.13 L617.23,193.50 L617.91,191.91 L618.59,190.37 L619.27,188.87 L619.95,187.42 L620.63,186.01 L621.31,184.65 L621.99,183.33 L622.67,182.06 L623.34,180.84 L624.02,179.66 L624.70,178.52 L625.38,177.43 L626.06,176.39 L626.74,175.40 L627.42,174.44 L628.10,173.54 L628.78,172.68 L629.45,171.86 L630.13,171.10 L630.81,170.37 L631.49,169.69 L632.17,169.06 L632.85,168.48 L633.53,167.94 L634.21,167.44 L634.89,166.99 L635.56,166.59 L636.24,166.23 L636.92,165.92 L637.60,165.65 L638.28,165.43 L638.96,165.25 L639.64,165.12 L640.32,165.04 L640.99,165.00 L641.67,165.01 L642.35,165.06 L643.03,165.16 L643.71,165.31 L644.39,165.50 L645.07,165.73 L645.75,166.01 L646.43,166.34 L647.10,166.71 L647.78,167.13 L648.46,167.60 L649.14,168.11 L649.82,168.66 L650.50,169.26 L651.18,169.91 L651.86,170.60 L652.54,171.34 L653.21,172.13 L653.89,172.96 L654.57,173.83 L655.25,174.75 L655.93,175.72 L656.61,176.73 L657.29,177.79 L657.97,178.90 L658.65,180.05 L659.32,181.24 L660.00,182.48 L660.68,183.77 L661.36,185.10 L662.04,186.48 L662.72,187.91 L663.40,189.38 L664.08,190.89 L664.76,192.45 L665.43,194.06 L666.11,195.71 L666.79,197.41 L667.47,199.15 L668.15,200.94 L668.83,202.78 L669.51,204.66 L670.19,206.59 L670.87,208.56 L671.54,210.58 L672.22,212.64 L672.90,214.75 L673.58,216.90 L674.26,219.10 L674.94,221.35 L675.62,223.64 L676.30,225.98 L676.97,228.36 L677.65,230.79 L678.33,233.26 L679.01,235.78 L679.69,238.35 L680.37,240.96 L681.05,243.61 L681.73,246.31 L682.41,249.06 L683.08,251.85 L683.76,254.69 L684.44,257.58 L685.12,260.50 L685.80,263.48 L686.48,266.50 L687.16,269.56 L687.84,272.67 L688.52,275.83 L689.19,279.03 L689.87,282.27 L690.55,285.56 L691.23,288.90 L691.91,292.28 L692.59,295.71 L693.27,299.18 L693.95,302.70 L694.63,306.26 L695.30,309.86 L695.98,313.51 L696.66,317.21 L697.34,320.95 L698.02,324.74 L698.70,328.57 L699.38,332.46 L700.06,336.39 L700.74,340.38 L701.41,344.41 L702.09,348.49 L702.77,352.61 L703.45,356.79 L704.13,361.02 L704.81,365.29 L705.49,369.61 L706.17,373.98 L706.85,378.40 L707.52,382.87 L708.20,387.38 L708.88,391.94 L709.56,396.55 L710.24,401.20 L710.92,405.91 L711.60,410.66 L712.28,415.45 L712.96,420.29 L713.63,425.18 L714.31,430.12 L714.99,435.10 L715.67,440.12 L716.35,445.19 L717.03,450.30 L717.71,455.46 L718.39,460.67 L719.06,465.91 L719.74,471.20 L720.42,476.53 L721.10,481.91 L721.78,487.32 L722.46,492.78 L723.14,498.28 L723.82,503.82 L724.50,509.40 L725.17,515.01 L725.85,520.67 L726.53,526.36 L727.21,532.09 L727.89,537.85 L728.57,543.65 L729.25,549.49 L729.93,555.35 L730.61,561.25 L731.28,567.18 L731.96,573.14 L732.64,579.13 L733.32,585.15 L734.00,591.19 L734.68,597.26 L735.36,603.35 L736.04,609.46 L736.72,615.59 L737.39,621.74 L738.07,627.90 L738.75,634.08 L739.43,640.27 L740.11,646.46 L740.79,652.66 L741.47,658.85 L742.15,665.05 L742.83,671.24 L743.50,677.41 L744.18,683.58 L744.86,689.72 L745.54,695.83 L746.22,701.91 L746.90,707.95 L747.58,713.95 L748.26,719.88 L748.94,725.75 L749.61,731.55 L750.29,737.25 L750.97,742.85 L751.65,748.34 L752.33,753.69 L753.01,758.90 L753.69,763.93 L754.37,768.77 L755.05,773.39 L755.72,777.77 L756.40,781.89 L757.08,785.70 L757.76,789.19 L758.44,792.32 L759.12,795.06 L759.80,797.38 L760.48,799.26 L761.15,800.67 L761.83,801.59 L762.51,802.02 L763.19,801.94 L763.87,801.37 L764.55,800.30 L765.23,798.75 L765.91,796.75 L766.59,794.32 L767.26,791.49 L767.94,788.29 L768.62,784.75 L769.30,780.91 L769.98,776.78 L770.66,772.41 L771.34,767.82 L772.02,763.03 L772.70,758.07 L773.37,752.95 L774.05,747.70 L774.73,742.33 L775.41,736.86 L776.09,731.30 L776.77,725.66 L777.45,719.95 L778.13,714.19 L778.81,708.38 L779.48,702.53 L780.16,696.65 L780.84,690.74 L781.52,684.81 L782.20,678.87 L782.88,672.91 L783.56,666.95 L784.24,660.98 L784.92,655.02 L785.59,649.05 L786.27,643.10 L786.95,637.15 L787.63,631.21 L788.31,625.29 L788.99,619.38 L789.67,613.49 L790.35,607.62 L791.03,601.76 L791.70,595.93 L792.38,590.12 L793.06,584.34 L793.74,578.58 L794.42,572.84 L795.10,567.13 L795.78,561.45 L796.46,555.80 L797.14,550.18 L797.81,544.59 L798.49,539.03 L799.17,533.49 L799.85,527.99 L800.53,522.53 L801.21,517.09 L801.89,511.69 L802.57,506.32 L803.24,500.99 L803.92,495.69 L804.60,490.42 L805.28,485.19 L805.96,480.00 L806.64,474.84 L807.32,469.72 L808.00,464.63 L808.68,459.58 L809.35,454.57 L810.03,449.59 L810.71,444.65 L811.39,439.75 L812.07,434.88 L812.75,430.06 L813.43,425.27 L814.11,420.52 L814.79,415.81 L815.46,411.13 L816.14,406.50 L816.82,401.90 L817.50,397.35 L818.18,392.83 L818.86,388.35 L819.54,383.91 L820.22,379.52 L820.90,375.17 L821.57,370.86 L822.25,366.59 L822.93,362.37 L823.61,358.19 L824.29,354.05 L824.97,349.95 L825.65,345.90 L826.33,341.90 L827.01,337.93 L827.68,334.01 L828.36,330.13 L829.04,326.30 L829.72,322.51 L830.40,318.77 L831.08,315.06 L831.76,311.41 L832.44,307.79 L833.12,304.22 L833.79,300.70 L834.47,297.22 L835.15,293.78 L835.83,290.39 L836.51,287.04 L837.19,283.74 L837.87,280.48 L838.55,277.27 L839.23,274.10 L839.90,270.98 L840.58,267.90 L841.26,264.86 L841.94,261.87 L842.62,258.93 L843.30,256.03 L843.98,253.17 L844.66,250.36 L845.33,247.60 L846.01,244.88 L846.69,242.20 L847.37,239.57 L848.05,236.99 L848.73,234.45 L849.41,231.95 L850.09,229.50 L850.77,227.10 L851.44,224.74 L852.12,222.43 L852.80,220.16 L853.48,217.94 L854.16,215.76 L854.84,213.63 L855.52,211.54 L856.20,209.50 L856.88,207.51 L857.55,205.56 L858.23,203.66 L858.91,201.80 L859.59,199.99 L860.27,198.22 L860.95,196.50 L861.63,194.82 L862.31,193.19 L862.99,191.61 L863.66,190.07 L864.34,188.57 L865.02,187.13 L865.70,185.73 L866.38,184.37 L867.06,183.06 L867.74,181.79 L868.42,180.58 L869.10,179.40 L869.77,178.28 L870.45,177.20 L871.13,176.16 L871.81,175.17 L872.49,174.23 L873.17,173.33 L873.85,172.48 L874.53,171.67 L875.21,170.91 L875.88,170.20 L876.56,169.53 L877.24,168.91 L877.92,168.33 L878.60,167.80 L879.28,167.32 L879.96,166.88 L880.64,166.49 L881.31,166.14 L881.99,165.84 L882.67,165.58 L883.35,165.37 L884.03,165.21 L884.71,165.10 L885.39,165.02 L886.07,165.00 L886.75,165.02 L887.42,165.09 L888.10,165.20 L888.78,165.36 L889.46,165.57 L890.14,165.82 L890.82,166.12 L891.50,166.46 L892.18,166.85 L892.86,167.28 L893.53,167.77 L894.21,168.29 L894.89,168.87 L895.57,169.49 L896.25,170.15 L896.93,170.86 L897.61,171.62 L898.29,172.42 L898.97,173.27 L899.64,174.17 L900.32,175.11 L901.00,176.10 L901.68,177.13 L902.36,178.21 L903.04,179.34 L903.72,180.51 L904.40,181.73 L905.08,182.99 L905.75,184.30 L906.43,185.65 L907.11,187.06 L907.79,188.50 L908.47,190.00 L909.15,191.54 L909.83,193.12 L910.51,194.75 L911.19,196.43 L911.86,198.15 L912.54,199.92 L913.22,201.73 L913.90,203.59 L914.58,205.50 L915.26,207.45 L915.94,209.45 L916.62,211.49 L917.30,213.58 L917.97,215.72 L918.65,217.90 L919.33,220.13 L920.01,222.40 L920.69,224.72 L921.37,227.08 L922.05,229.49 L922.73,231.94 L923.40,234.44 L924.08,236.99 L924.76,239.58 L925.44,242.22 L926.12,244.90 L926.80,247.63 L927.48,250.40 L928.16,253.22 L928.84,256.09 L929.51,259.00 L930.19,261.95 L930.87,264.95 L931.55,268.00 L932.23,271.09 L932.91,274.22 L933.59,277.41 L934.27,280.63 L934.95,283.90 L935.62,287.22 L936.30,290.58 L936.98,293.99 L937.66,297.44 L938.34,300.94 L939.02,304.48 L939.70,308.06 L940.38,311.69 L941.06,315.37 L941.73,319.10 L942.41,322.88 L943.09,326.71 L943.77,330.59 L944.45,334.52 L945.13,338.50 L945.81,342.53 L946.49,346.61 L947.17,350.74 L947.84,354.91 L948.52,359.14 L949.20,363.42 L949.88,367.75 L950.56,372.12 L951.24,376.55 L951.92,381.02 L952.60,385.54 L953.28,390.11 L953.95,394.73 L954.63,399.40 L955.31,404.11 L955.99,408.88 L956.67,413.69 L957.35,418.54 L958.03,423.45 L958.71,428.40 L959.39,433.40 L960.06,438.44 L960.74,443.53 L961.42,448.66 L962.10,453.84 L962.78,459.07 L963.46,464.34 L964.14,469.65 L964.82,475.00 L965.49,480.40 L966.17,485.84 L966.85,491.33 L967.53,496.85 L968.21,502.41 L968.89,508.02 L969.57,513.66 L970.25,519.34 L970.93,525.06 L971.60,530.82 L972.28,536.61 L972.96,542.44 L973.64,548.30 L974.32,554.19 L975.00,560.12 L975.68,566.08 L976.36,572.07 L977.04,578.08 L977.71,584.13 L978.39,590.20 L979.07,596.29 L979.75,602.41 L980.43,608.54 L981.11,614.70 L981.79,620.87 L982.47,627.06 L983.15,633.25 L983.82,639.46 L984.50,645.68 L985.18,651.89 L985.86,658.11 L986.54,664.33 L987.22,670.53 L987.90,676.73 L988.58,682.91 L989.26,689.06 L989.93,695.19 L990.61,701.28 L991.29,707.34 L991.97,713.34 L992.65,719.29 L993.33,725.17 L994.01,730.97 L994.69,736.69 L995.37,742.30 L996.04,747.79 L996.72,753.16 L997.40,758.37 L998.08,763.41 L998.76,768.26 L999.44,772.90 L1000.12,777.30 L1000.80,781.43 L1001.48,785.27 L1002.15,788.79 L1002.83,791.95 L1003.51,794.73 L1004.19,797.10 L1004.87,799.03 L1005.55,800.50 L1006.23,801.49 L1006.91,801.99 L1007.58,801.99 L1008.26,801.49 L1008.94,800.50 L1009.62,799.04 L1010.30,797.13 L1010.98,794.79 L1011.66,792.05 L1012.34,788.93 L1013.02,785.48 L1013.69,781.72 L1014.37,777.69 L1015.05,773.40 L1015.73,768.89 L1016.41,764.18 L1017.09,759.29 L1017.77,754.25 L1018.45,749.07 L1019.13,743.78 L1019.80,738.38 L1020.48,732.88 L1021.16,727.31 L1021.84,721.68 L1022.52,715.98 L1023.20,710.24 L1023.88,704.45 L1024.56,698.63 L1025.24,692.78 L1025.91,686.91 L1026.59,681.02 L1027.27,675.12 L1027.95,669.22 L1028.63,663.31 L1029.31,657.39 L1029.99,651.48 L1030.67,645.57 L1031.35,639.68 L1032.02,633.79 L1032.70,627.91 L1033.38,622.04 L1034.06,616.19 L1034.74,610.36 L1035.42,604.55 L1036.10,598.76 L1036.78,592.98 L1037.46,587.23 L1038.13,581.51 L1038.81,575.80 L1039.49,570.13 L1040.17,564.47 L1040.85,558.85 L1041.53,553.25 L1042.21,547.68 L1042.89,542.14 L1043.57,536.63 L1044.24,531.14 L1044.92,525.69 L1045.60,520.27 L1046.28,514.88 L1046.96,509.52 L1047.64,504.20 L1048.32,498.90 L1049.00,493.64 L1049.67,488.41 L1050.35,483.22 L1051.03,478.06 L1051.71,472.93 L1052.39,467.84 L1053.07,462.78 L1053.75,457.76 L1054.43,452.77 L1055.11,447.81 L1055.78,442.90 L1056.46,438.01 L1057.14,433.17 L1057.82,428.36 L1058.50,423.58 L1059.18,418.84 L1059.86,414.14 L1060.54,409.48 L1061.22,404.85 L1061.89,400.26 L1062.57,395.71 L1063.25,391.21 L1063.93,386.74 L1064.61,382.32 L1065.29,377.94 L1065.97,373.61 L1066.65,369.31 L1067.33,365.06 L1068.00,360.86 L1068.68,356.69 L1069.36,352.57 L1070.04,348.49 L1070.72,344.46 L1071.40,340.46 L1072.08,336.52 L1072.76,332.61 L1073.44,328.75 L1074.11,324.93 L1074.79,321.16 L1075.47,317.43 L1076.15,313.74 L1076.83,310.10 L1077.51,306.51 L1078.19,302.95 L1078.87,299.44 L1079.55,295.98 L1080.22,292.56 L1080.90,289.18 L1081.58,285.85 L1082.26,282.56 L1082.94,279.32 L1083.62,276.12 L1084.30,272.97 L1084.98,269.86 L1085.66,266.80 L1086.33,263.78 L1087.01,260.81 L1087.69,257.88 L1088.37,254.99 L1089.05,252.15 L1089.73,249.36 L1090.41,246.61 L1091.09,243.91 L1091.76,241.25 L1092.44,238.63 L1093.12,236.07 L1093.80,233.54 L1094.48,231.06 L1095.16,228.63 L1095.84,226.24 L1096.52,223.90 L1097.20,221.60 L1097.87,219.35 L1098.55,217.15 L1099.23,214.99 L1099.91,212.87 L1100.59,210.80 L1101.27,208.78 L1101.95,206.80 L1102.63,204.87 L1103.31,202.98 L1103.98,201.14 L1104.66,199.34 L1105.34,197.59 L1106.02,195.88 L1106.70,194.22 L1107.38,192.61 L1108.06,191.04 L1108.74,189.52 L1109.42,188.04 L1110.09,186.61 L1110.77,185.23 L1111.45,183.89 L1112.13,182.59 L1112.81,181.35 L1113.49,180.14 L1114.17,178.99 L1114.85,177.88 L1115.53,176.81 L1116.20,175.79 L1116.88,174.82 L1117.56,173.89 L1118.24,173.01 L1118.92,172.18 L1119.60,171.39 L1120.28,170.65 L1120.96,169.95 L1121.64,169.30 L1122.31,168.69 L1122.99,168.13 L1123.67,167.62 L1124.35,167.15 L1125.03,166.73 L1125.71,166.35 L1126.39,166.02 L1127.07,165.74 L1127.74,165.50 L1128.42,165.31 L1129.10,165.16 L1129.78,165.06 L1130.46,165.01 L1131.14,165.00 L1131.82,165.04 L1132.50,165.13 L1133.18,165.26 L1133.85,165.43 L1134.53,165.65 L1135.21,165.92 L1135.89,166.24 L1136.57,166.60 L1137.25,167.00 L1137.93,167.46 L1138.61,167.96 L1139.29,168.50 L1139.96,169.09 L1140.64,169.73 L1141.32,170.41 L1142.00,171.14 L1142.68,171.91 L1143.36,172.74 L1144.04,173.60 L1144.72,174.52 L1145.40,175.47 L1146.07,176.48 L1146.75,177.53 L1147.43,178.63 L1148.11,179.77 L1148.79,180.96 L1149.47,182.19 L1150.15,183.47 L1150.83,184.80 L1151.51,186.17 L1152.18,187.59 L1152.86,189.06 L1153.54,190.57 L1154.22,192.13 L1154.90,193.73 L1155.58,195.38 L1156.26,197.07 L1156.94,198.81 L1157.62,200.60 L1158.29,202.43 L1158.97,204.31 L1159.65,206.23 L1160.33,208.20 L1161.01,210.22 L1161.69,212.28 L1162.37,214.38 L1163.05,216.54 L1163.73,218.74 L1164.40,220.98 L1165.08,223.27 L1165.76,225.61 L1166.44,227.99 L1167.12,230.41 L1167.80,232.89 L1168.48,235.40 L1169.16,237.97 L1169.83,240.58 L1170.51,243.23 L1171.19,245.93 L1171.87,248.68 L1172.55,251.47 L1173.23,254.31 L1173.91,257.19 L1174.59,260.12 L1175.27,263.09 L1175.94,266.11 L1176.62,269.17 L1177.30,272.28 L1177.98,275.43 L1178.66,278.63 L1179.34,281.87 L1180.02,285.16 L1180.70,288.50 L1181.38,291.88 L1182.05,295.30 L1182.73,298.77 L1183.41,302.28 L1184.09,305.84 L1184.77,309.44 L1185.45,313.09 L1186.13,316.78 L1186.81,320.52 L1187.49,324.30 L1188.16,328.13 L1188.84,332.00 L1189.52,335.92 L1190.20,339.87 L1190.88,343.88 L1191.56,347.93 L1192.24,352.02 L1192.92,356.15 L1193.60,360.33 L1194.27,364.55 L1194.95,368.82 L1195.63,373.13 L1196.31,377.48 L1196.99,381.88 L1197.67,386.32 L1198.35,390.80 L1199.03,395.33 L1199.71,399.90 L1200.38,404.51 L1201.06,409.16 L1201.74,413.86 L1202.42,418.59 L1203.10,423.37 L1203.78,428.19 L1204.46,433.06 L1205.14,437.96 L1205.82,442.91 L1206.49,447.89 L1207.17,452.92 L1207.85,457.98 L1208.53,463.09 L1209.21,468.24 L1209.89,473.42 L1210.57,478.65 L1211.25,483.91 L1211.92,489.22 L1212.60,494.56 L1213.28,499.94 L1213.96,505.35 L1214.64,510.80 L1215.32,516.29 L1216.00,521.82 L1216.68,527.38 L1217.36,532.97 L1218.03,538.60 L1218.71,544.26 L1219.39,549.96 L1220.07,555.69 L1220.75,561.45 L1221.43,567.23 L1222.11,573.05 L1222.79,578.90 L1223.47,584.77 L1224.14,590.67 L1224.82,596.60 L1225.50,602.55 L1226.18,608.52 L1226.86,614.51 L1227.54,620.52 L1228.22,626.55 L1228.90,632.59 L1229.58,638.64 L1230.25,644.71 L1230.93,650.78 L1231.61,656.86 L1232.29,662.94 L1232.97,669.02 L1233.65,675.09 L1234.33,681.16 L1235.01,687.21 L1235.69,693.23 L1236.36,699.24 L1237.04,705.21 L1237.72,711.14 L1238.40,717.03 L1239.08,722.86 L1239.76,728.63 L1240.44,734.32 L1241.12,739.92 L1241.80,745.42 L1242.47,750.80 L1243.15,756.05 L1243.83,761.15 L1244.51,766.08 L1245.19,770.81 L1245.87,775.32 L1246.55,779.58 L1247.23,783.56 L1247.91,787.24 L1248.58,790.58 L1249.26,793.55 L1249.94,796.12 L1250.62,798.26 L1251.30,799.94 L1251.98,801.15 L1252.66,801.85 L1253.34,802.05 L1254.01,801.73 L1254.69,800.91 L1255.37,799.60 L1256.05,797.81 L1256.73,795.57 L1257.41,792.91 L1258.09,789.85 L1258.77,786.43 L1259.45,782.68 L1260.12,778.63 L1260.80,774.31 L1261.48,769.75 L1262.16,764.98 L1262.84,760.01 L1263.52,754.88 L1264.20,749.60 L1264.88,744.19 L1265.56,738.66 L1266.23,733.04 L1266.91,727.34 L1267.59,721.56 L1268.27,715.71 L1268.95,709.82 L1269.63,703.88 L1270.31,697.90 L1270.99,691.89 L1271.67,685.86 L1272.34,679.81 L1273.02,673.75 L1273.70,667.68 L1274.38,661.60 L1275.06,655.52 L1275.74,649.45 L1276.42,643.38 L1277.10,637.32 L1277.78,631.27 L1278.45,625.23 L1279.13,619.21 L1279.81,613.21 L1280.49,607.23 L1281.17,601.27 L1281.85,595.33 L1282.53,589.41 L1283.21,583.52 L1283.89,577.66 L1284.56,571.82 L1285.24,566.01 L1285.92,560.23 L1286.60,554.49 L1287.28,548.77 L1287.96,543.09 L1288.64,537.44 L1289.32,531.82 L1290.00,526.24 L1290.67,520.69 L1291.35,515.17 L1292.03,509.70 L1292.71,504.26 L1293.39,498.85 L1294.07,493.49 L1294.75,488.16 L1295.43,482.87 L1296.10,477.62 L1296.78,472.41 L1297.46,467.23 L1298.14,462.10 L1298.82,457.01 L1299.50,451.95 L1300.18,446.94 L1300.86,441.97 L1301.54,437.03 L1302.21,432.14 L1302.89,427.29 L1303.57,422.49 L1304.25,417.72 L1304.93,413.00 L1305.61,408.31 L1306.29,403.67 L1306.97,399.08 L1307.65,394.52 L1308.32,390.01 L1309.00,385.54 L1309.68,381.11 L1310.36,376.72 L1311.04,372.38 L1311.72,368.08 L1312.40,363.83 L1313.08,359.61 L1313.76,355.44 L1314.43,351.32 L1315.11,347.24 L1315.79,343.20 L1316.47,339.21 L1317.15,335.26 L1317.83,331.35 L1318.51,327.49 L1319.19,323.67 L1319.87,319.90 L1320.54,316.17 L1321.22,312.49 L1321.90,308.85 L1322.58,305.25 L1323.26,301.70 L1323.94,298.19 L1324.62,294.73 L1325.30,291.32 L1325.98,287.94 L1326.65,284.62 L1327.33,281.34 L1328.01,278.10 L1328.69,274.91 L1329.37,271.76 L1330.05,268.66 L1330.73,265.60 L1331.41,262.59 L1332.08,259.62 L1332.76,256.70 L1333.44,253.83 L1334.12,251.00 L1334.80,248.21 L1335.48,245.47 L1336.16,242.78 L1336.84,240.13 L1337.52,237.53 L1338.19,234.97 L1338.87,232.46 L1339.55,229.99 L1340.23,227.57 L1340.91,225.20 L1341.59,222.87 L1342.27,220.59 L1342.95,218.35 L1343.63,216.16 L1344.30,214.01 L1344.98,211.91 L1345.66,209.85 L1346.34,207.84 L1347.02,205.88 L1347.70,203.96 L1348.38,202.09 L1349.06,200.27 L1349.74,198.49 L1350.41,196.76 L1351.09,195.07 L1351.77,193.43 L1352.45,191.83 L1353.13,190.28 L1353.81,188.78 L1354.49,187.32 L1355.17,185.91 L1355.85,184.54 L1356.52,183.22 L1357.20,181.95 L1357.88,180.72 L1358.56,179.54 L1359.24,178.40 L1359.92,177.32 L1360.60,176.27 L1361.28,175.28 L1361.96,174.32 L1362.63,173.42 L1363.31,172.56 L1363.99,171.75 L1364.67,170.98 L1365.35,170.26 L1366.03,169.59 L1366.71,168.96 L1367.39,168.38 L1368.07,167.84 L1368.74,167.35" fill="none" stroke="#f00" stroke-width="6.8" stroke-linejoin="round" stroke-linecap="round"/>
<ellipse cx="151.50" cy="165.00" rx="12.4" ry="11.3" fill="#f00"/>
<ellipse cx="212.16" cy="347.60" rx="12.4" ry="11.3" fill="#f00"/>
<ellipse cx="272.82" cy="801.42" rx="12.4" ry="11.3" fill="#f00"/>
<ellipse cx="333.48" cy="360.60" rx="12.4" ry="11.3" fill="#f00"/>
<ellipse cx="394.14" cy="165.24" rx="12.4" ry="11.3" fill="#f00"/>
<ellipse cx="454.80" cy="334.20" rx="12.4" ry="11.3" fill="#f00"/>
<ellipse cx="515.46" cy="797.20" rx="12.4" ry="11.3" fill="#f00"/>
<ellipse cx="576.12" cy="374.00" rx="12.4" ry="11.3" fill="#f00"/>
<ellipse cx="636.78" cy="165.98" rx="12.4" ry="11.3" fill="#f00"/>
<ellipse cx="697.44" cy="321.50" rx="12.4" ry="11.3" fill="#f00"/>
<ellipse cx="758.10" cy="790.80" rx="12.4" ry="11.3" fill="#f00"/>
<ellipse cx="818.76" cy="389.00" rx="12.4" ry="11.3" fill="#f00"/>
<ellipse cx="879.42" cy="167.22" rx="12.4" ry="11.3" fill="#f00"/>
<ellipse cx="940.08" cy="310.10" rx="12.4" ry="11.3" fill="#f00"/>
<ellipse cx="1000.74" cy="781.10" rx="12.4" ry="11.3" fill="#f00"/>
<ellipse cx="1061.40" cy="403.60" rx="12.4" ry="11.3" fill="#f00"/>
<ellipse cx="1122.06" cy="168.91" rx="12.4" ry="11.3" fill="#f00"/>
<ellipse cx="1182.72" cy="298.70" rx="12.4" ry="11.3" fill="#f00"/>
<ellipse cx="1243.38" cy="757.78" rx="12.4" ry="11.3" fill="#f00"/>
<ellipse cx="1304.04" cy="419.20" rx="12.4" ry="11.3" fill="#f00"/>
<ellipse cx="1364.70" cy="170.95" rx="12.4" ry="11.3" fill="#f00"/>
<path d="M147.46,165.00 L148.13,165.00 L148.81,165.00 L149.49,165.00 L150.17,165.00 L150.85,165.00 L151.53,165.00 L152.21,165.00 L152.89,165.00 L153.57,165.00 L154.24,165.00 L154.92,165.00 L155.60,165.00 L156.28,165.00 L156.96,165.00 L157.64,165.00 L158.32,165.00 L159.00,165.00 L159.68,165.00 L160.35,165.00 L161.03,165.00 L161.71,165.00 L162.39,165.00 L163.07,165.00 L163.75,164.99 L164.43,164.99 L165.11,164.99 L165.79,164.99 L166.46,164.99 L167.14,164.99 L167.82,164.99 L168.50,164.99 L169.18,164.99 L169.86,164.99 L170.54,164.99 L171.22,164.99 L171.90,164.99 L172.57,164.98 L173.25,164.98 L173.93,164.98 L174.61,164.98 L175.29,164.98 L175.97,164.98 L176.65,164.98 L177.33,164.98 L178.01,164.98 L178.68,164.97 L179.36,164.97 L180.04,164.97 L180.72,164.97 L181.40,164.97 L182.08,164.97 L182.76,164.97 L183.44,164.96 L184.12,164.96 L184.79,164.96 L185.47,164.96 L186.15,164.96 L186.83,164.96 L187.51,164.95 L188.19,164.95 L188.87,164.95 L189.55,164.95 L190.22,164.95 L190.90,164.94 L191.58,164.94 L192.26,164.94 L192.94,164.94 L193.62,164.94 L194.30,164.94 L194.98,164.93 L195.66,164.93 L196.33,164.93 L197.01,164.93 L197.69,164.92 L198.37,164.92 L199.05,164.92 L199.73,164.92 L200.41,164.92 L201.09,164.91 L201.77,164.91 L202.44,164.91 L203.12,164.91 L203.80,164.90 L204.48,164.90 L205.16,164.90 L205.84,164.90 L206.52,164.89 L207.20,164.89 L207.88,164.89 L208.55,164.89 L209.23,164.88 L209.91,164.88 L210.59,164.88 L211.27,164.87 L211.95,164.87 L212.63,164.87 L213.31,164.87 L213.99,164.86 L214.66,164.86 L215.34,164.86 L216.02,164.85 L216.70,164.85 L217.38,164.85 L218.06,164.84 L218.74,164.84 L219.42,164.84 L220.10,164.84 L220.77,164.83 L221.45,164.83 L222.13,164.83 L222.81,164.82 L223.49,164.82 L224.17,164.82 L224.85,164.81 L225.53,164.81 L226.20,164.81 L226.88,164.80 L227.56,164.80 L228.24,164.79 L228.92,164.79 L229.60,164.79 L230.28,164.78 L230.96,164.78 L231.64,164.78 L232.31,164.77 L232.99,164.77 L233.67,164.77 L234.35,164.76 L235.03,164.76 L235.71,164.75 L236.39,164.75 L237.07,164.75 L237.75,164.74 L238.42,164.74 L239.10,164.73 L239.78,164.73 L240.46,164.73 L241.14,164.72 L241.82,164.72 L242.50,164.71 L243.18,164.71 L243.86,164.71 L244.53,164.70 L245.21,164.70 L245.89,164.69 L246.57,164.69 L247.25,164.68 L247.93,164.68 L248.61,164.67 L249.29,164.67 L249.97,164.67 L250.64,164.66 L251.32,164.66 L252.00,164.65 L252.68,164.65 L253.36,164.64 L254.04,164.64 L254.72,164.63 L255.40,164.63 L256.08,164.63 L256.75,164.62 L257.43,164.62 L258.11,164.61 L258.79,164.61 L259.47,164.60 L260.15,164.60 L260.83,164.59 L261.51,164.59 L262.19,164.58 L262.86,164.58 L263.54,164.57 L264.22,164.57 L264.90,164.56 L265.58,164.56 L266.26,164.55 L266.94,164.55 L267.62,164.54 L268.29,164.54 L268.97,164.53 L269.65,164.53 L270.33,164.52 L271.01,164.52 L271.69,164.51 L272.37,164.51 L273.05,164.50 L273.73,164.50 L274.40,164.49 L275.08,164.48 L275.76,164.48 L276.44,164.47 L277.12,164.47 L277.80,164.46 L278.48,164.46 L279.16,164.45 L279.84,164.45 L280.51,164.44 L281.19,164.44 L281.87,164.43 L282.55,164.42 L283.23,164.42 L283.91,164.41 L284.59,164.41 L285.27,164.40 L285.95,164.40 L286.62,164.39 L287.30,164.38 L287.98,164.38 L288.66,164.37 L289.34,164.37 L290.02,164.36 L290.70,164.36 L291.38,164.35 L292.06,164.34 L292.73,164.34 L293.41,164.33 L294.09,164.33 L294.77,164.32 L295.45,164.31 L296.13,164.31 L296.81,164.30 L297.49,164.30 L298.17,164.29 L298.84,164.28 L299.52,164.28 L300.20,164.27 L300.88,164.27 L301.56,164.26 L302.24,164.25 L302.92,164.25 L303.60,164.24 L304.28,164.23 L304.95,164.23 L305.63,164.22 L306.31,164.22 L306.99,164.21 L307.67,164.20 L308.35,164.20 L309.03,164.19 L309.71,164.18 L310.38,164.18 L311.06,164.17 L311.74,164.16 L312.42,164.16 L313.10,164.15 L313.78,164.15 L314.46,164.14 L315.14,164.13 L315.82,164.13 L316.49,164.12 L317.17,164.11 L317.85,164.11 L318.53,164.10 L319.21,164.09 L319.89,164.09 L320.57,164.08 L321.25,164.07 L321.93,164.07 L322.60,164.06 L323.28,164.05 L323.96,164.05 L324.64,164.04 L325.32,164.03 L326.00,164.03 L326.68,164.02 L327.36,164.01 L328.04,164.01 L328.71,164.00 L329.39,163.99 L330.07,163.99 L330.75,163.98 L331.43,163.97 L332.11,163.96 L332.79,163.96 L333.47,163.95 L334.15,163.94 L334.82,163.94 L335.50,163.93 L336.18,163.92 L336.86,163.92 L337.54,163.91 L338.22,163.90 L338.90,163.90 L339.58,163.89 L340.26,163.88 L340.93,163.87 L341.61,163.87 L342.29,163.86 L342.97,163.85 L343.65,163.85 L344.33,163.84 L345.01,163.83 L345.69,163.82 L346.37,163.82 L347.04,163.81 L347.72,163.80 L348.40,163.80 L349.08,163.79 L349.76,163.78 L350.44,163.77 L351.12,163.77 L351.80,163.76 L352.47,163.75 L353.15,163.75 L353.83,163.74 L354.51,163.73 L355.19,163.72 L355.87,163.72 L356.55,163.71 L357.23,163.70 L357.91,163.70 L358.58,163.69 L359.26,163.68 L359.94,163.67 L360.62,163.67 L361.30,163.66 L361.98,163.65 L362.66,163.64 L363.34,163.64 L364.02,163.63 L364.69,163.62 L365.37,163.61 L366.05,163.61 L366.73,163.60 L367.41,163.59 L368.09,163.59 L368.77,163.58 L369.45,163.57 L370.13,163.56 L370.80,163.56 L371.48,163.55 L372.16,163.54 L372.84,163.53 L373.52,163.53 L374.20,163.52 L374.88,163.51 L375.56,163.50 L376.24,163.50 L376.91,163.49 L377.59,163.48 L378.27,163.47 L378.95,163.47 L379.63,163.46 L380.31,163.45 L380.99,163.44 L381.67,163.44 L382.35,163.43 L383.02,163.42 L383.70,163.41 L384.38,163.41 L385.06,163.40 L385.74,163.39 L386.42,163.38 L387.10,163.38 L387.78,163.37 L388.46,163.36 L389.13,163.36 L389.81,163.35 L390.49,163.34 L391.17,163.33 L391.85,163.33 L392.53,163.32 L393.21,163.31 L393.89,163.30 L394.56,163.30 L395.24,163.29 L395.92,163.28 L396.60,163.27 L397.28,163.27 L397.96,163.26 L398.64,163.25 L399.32,163.24 L400.00,163.24 L400.67,163.23 L401.35,163.22 L402.03,163.21 L402.71,163.21 L403.39,163.20 L404.07,163.19 L404.75,163.18 L405.43,163.18 L406.11,163.17 L406.78,163.16 L407.46,163.15 L408.14,163.15 L408.82,163.14 L409.50,163.13 L410.18,163.12 L410.86,163.12 L411.54,163.11 L412.22,163.10 L412.89,163.09 L413.57,163.09 L414.25,163.08 L414.93,163.07 L415.61,163.06 L416.29,163.06 L416.97,163.05 L417.65,163.04 L418.33,163.03 L419.00,163.03 L419.68,163.02 L420.36,163.01 L421.04,163.01 L421.72,163.00 L422.40,162.99 L423.08,162.98 L423.76,162.98 L424.44,162.97 L425.11,162.96 L425.79,162.95 L426.47,162.95 L427.15,162.94 L427.83,162.93 L428.51,162.92 L429.19,162.92 L429.87,162.91 L430.54,162.90 L431.22,162.90 L431.90,162.89 L432.58,162.88 L433.26,162.87 L433.94,162.87 L434.62,162.86 L435.30,162.85 L435.98,162.85 L436.65,162.84 L437.33,162.83 L438.01,162.82 L438.69,162.82 L439.37,162.81 L440.05,162.80 L440.73,162.80 L441.41,162.79 L442.09,162.78 L442.76,162.77 L443.44,162.77 L444.12,162.76 L444.80,162.75 L445.48,162.75 L446.16,162.74 L446.84,162.73 L447.52,162.72 L448.20,162.72 L448.87,162.71 L449.55,162.70 L450.23,162.70 L450.91,162.69 L451.59,162.68 L452.27,162.68 L452.95,162.67 L453.63,162.66 L454.31,162.65 L454.98,162.65 L455.66,162.64 L456.34,162.63 L457.02,162.63 L457.70,162.62 L458.38,162.61 L459.06,162.61 L459.74,162.60 L460.42,162.59 L461.09,162.59 L461.77,162.58 L462.45,162.57 L463.13,162.57 L463.81,162.56 L464.49,162.55 L465.17,162.55 L465.85,162.54 L466.53,162.53 L467.20,162.53 L467.88,162.52 L468.56,162.51 L469.24,162.51 L469.92,162.50 L470.60,162.49 L471.28,162.49 L471.96,162.48 L472.63,162.47 L473.31,162.47 L473.99,162.46 L474.67,162.45 L475.35,162.45 L476.03,162.44 L476.71,162.43 L477.39,162.43 L478.07,162.42 L478.74,162.41 L479.42,162.41 L480.10,162.40 L480.78,162.40 L481.46,162.39 L482.14,162.38 L482.82,162.38 L483.50,162.37 L484.18,162.36 L484.85,162.36 L485.53,162.35 L486.21,162.35 L486.89,162.34 L487.57,162.33 L488.25,162.33 L488.93,162.32 L489.61,162.31 L490.29,162.31 L490.96,162.30 L491.64,162.30 L492.32,162.29 L493.00,162.28 L493.68,162.28 L494.36,162.27 L495.04,162.27 L495.72,162.26 L496.40,162.26 L497.07,162.25 L497.75,162.24 L498.43,162.24 L499.11,162.23 L499.79,162.23 L500.47,162.22 L501.15,162.21 L501.83,162.21 L502.51,162.20 L503.18,162.20 L503.86,162.19 L504.54,162.19 L505.22,162.18 L505.90,162.17 L506.58,162.17 L507.26,162.16 L507.94,162.16 L508.62,162.15 L509.29,162.15 L509.97,162.14 L510.65,162.14 L511.33,162.13 L512.01,162.13 L512.69,162.12 L513.37,162.11 L514.05,162.11 L514.72,162.10 L515.40,162.10 L516.08,162.09 L516.76,162.09 L517.44,162.08 L518.12,162.08 L518.80,162.07 L519.48,162.07 L520.16,162.06 L520.83,162.06 L521.51,162.05 L522.19,162.05 L522.87,162.04 L523.55,162.04 L524.23,162.03 L524.91,162.03 L525.59,162.02 L526.27,162.02 L526.94,162.01 L527.62,162.01 L528.30,162.00 L528.98,162.00 L529.66,161.99 L530.34,161.99 L531.02,161.98 L531.70,161.98 L532.38,161.97 L533.05,161.97 L533.73,161.96 L534.41,161.96 L535.09,161.96 L535.77,161.95 L536.45,161.95 L537.13,161.94 L537.81,161.94 L538.49,161.93 L539.16,161.93 L539.84,161.92 L540.52,161.92 L541.20,161.92 L541.88,161.91 L542.56,161.91 L543.24,161.90 L543.92,161.90 L544.60,161.89 L545.27,161.89 L545.95,161.89 L546.63,161.88 L547.31,161.88 L547.99,161.87 L548.67,161.87 L549.35,161.87 L550.03,161.86 L550.71,161.86 L551.38,161.85 L552.06,161.85 L552.74,161.85 L553.42,161.84 L554.10,161.84 L554.78,161.83 L555.46,161.83 L556.14,161.83 L556.81,161.82 L557.49,161.82 L558.17,161.82 L558.85,161.81 L559.53,161.81 L560.21,161.80 L560.89,161.80 L561.57,161.80 L562.25,161.79 L562.92,161.79 L563.60,161.79 L564.28,161.78 L564.96,161.78 L565.64,161.78 L566.32,161.77 L567.00,161.77 L567.68,161.77 L568.36,161.76 L569.03,161.76 L569.71,161.76 L570.39,161.75 L571.07,161.75 L571.75,161.75 L572.43,161.75 L573.11,161.74 L573.79,161.74 L574.47,161.74 L575.14,161.73 L575.82,161.73 L576.50,161.73 L577.18,161.72 L577.86,161.72 L578.54,161.72 L579.22,161.72 L579.90,161.71 L580.58,161.71 L581.25,161.71 L581.93,161.71 L582.61,161.70 L583.29,161.70 L583.97,161.70 L584.65,161.70 L585.33,161.69 L586.01,161.69 L586.69,161.69 L587.36,161.69 L588.04,161.68 L588.72,161.68 L589.40,161.68 L590.08,161.68 L590.76,161.67 L591.44,161.67 L592.12,161.67 L592.80,161.67 L593.47,161.67 L594.15,161.66 L594.83,161.66 L595.51,161.66 L596.19,161.66 L596.87,161.66 L597.55,161.65 L598.23,161.65 L598.90,161.65 L599.58,161.65 L600.26,161.65 L600.94,161.65 L601.62,161.64 L602.30,161.64 L602.98,161.64 L603.66,161.64 L604.34,161.64 L605.01,161.64 L605.69,161.63 L606.37,161.63 L607.05,161.63 L607.73,161.63 L608.41,161.63 L609.09,161.63 L609.77,161.63 L610.45,161.62 L611.12,161.62 L611.80,161.62 L612.48,161.62 L613.16,161.62 L613.84,161.62 L614.52,161.62 L615.20,161.62 L615.88,161.62 L616.56,161.61 L617.23,161.61 L617.91,161.61 L618.59,161.61 L619.27,161.61 L619.95,161.61 L620.63,161.61 L621.31,161.61 L621.99,161.61 L622.67,161.61 L623.34,161.61 L624.02,161.61 L624.70,161.61 L625.38,161.60 L626.06,161.60 L626.74,161.60 L627.42,161.60 L628.10,161.60 L628.78,161.60 L629.45,161.60 L630.13,161.60 L630.81,161.60 L631.49,161.60 L632.17,161.60 L632.85,161.60 L633.53,161.60 L634.21,161.60 L634.89,161.60 L635.56,161.60 L636.24,161.60 L636.92,161.60 L637.60,161.60 L638.28,161.60 L638.96,161.60 L639.64,161.60 L640.32,161.60 L640.99,161.60 L641.67,161.60 L642.35,161.60 L643.03,161.60 L643.71,161.60 L644.39,161.60 L645.07,161.60 L645.75,161.60 L646.43,161.60 L647.10,161.60 L647.78,161.60 L648.46,161.60 L649.14,161.61 L649.82,161.61 L650.50,161.61 L651.18,161.61 L651.86,161.61 L652.54,161.61 L653.21,161.61 L653.89,161.61 L654.57,161.61 L655.25,161.61 L655.93,161.61 L656.61,161.61 L657.29,161.61 L657.97,161.62 L658.65,161.62 L659.32,161.62 L660.00,161.62 L660.68,161.62 L661.36,161.62 L662.04,161.62 L662.72,161.62 L663.40,161.63 L664.08,161.63 L664.76,161.63 L665.43,161.63 L666.11,161.63 L666.79,161.63 L667.47,161.63 L668.15,161.63 L668.83,161.64 L669.51,161.64 L670.19,161.64 L670.87,161.64 L671.54,161.64 L672.22,161.64 L672.90,161.65 L673.58,161.65 L674.26,161.65 L674.94,161.65 L675.62,161.65 L676.30,161.66 L676.97,161.66 L677.65,161.66 L678.33,161.66 L679.01,161.66 L679.69,161.67 L680.37,161.67 L681.05,161.67 L681.73,161.67 L682.41,161.67 L683.08,161.68 L683.76,161.68 L684.44,161.68 L685.12,161.68 L685.80,161.68 L686.48,161.69 L687.16,161.69 L687.84,161.69 L688.52,161.69 L689.19,161.70 L689.87,161.70 L690.55,161.70 L691.23,161.70 L691.91,161.71 L692.59,161.71 L693.27,161.71 L693.95,161.72 L694.63,161.72 L695.30,161.72 L695.98,161.72 L696.66,161.73 L697.34,161.73 L698.02,161.73 L698.70,161.73 L699.38,161.74 L700.06,161.74 L700.74,161.74 L701.41,161.75 L702.09,161.75 L702.77,161.75 L703.45,161.76 L704.13,161.76 L704.81,161.76 L705.49,161.77 L706.17,161.77 L706.85,161.77 L707.52,161.78 L708.20,161.78 L708.88,161.78 L709.56,161.79 L710.24,161.79 L710.92,161.79 L711.60,161.80 L712.28,161.80 L712.96,161.80 L713.63,161.81 L714.31,161.81 L714.99,161.81 L715.67,161.82 L716.35,161.82 L717.03,161.82 L717.71,161.83 L718.39,161.83 L719.06,161.84 L719.74,161.84 L720.42,161.84 L721.10,161.85 L721.78,161.85 L722.46,161.85 L723.14,161.86 L723.82,161.86 L724.50,161.87 L725.17,161.87 L725.85,161.87 L726.53,161.88 L727.21,161.88 L727.89,161.89 L728.57,161.89 L729.25,161.90 L729.93,161.90 L730.61,161.90 L731.28,161.91 L731.96,161.91 L732.64,161.92 L733.32,161.92 L734.00,161.93 L734.68,161.93 L735.36,161.93 L736.04,161.94 L736.72,161.94 L737.39,161.95 L738.07,161.95 L738.75,161.96 L739.43,161.96 L740.11,161.97 L740.79,161.97 L741.47,161.98 L742.15,161.98 L742.83,161.99 L743.50,161.99 L744.18,161.99 L744.86,162.00 L745.54,162.00 L746.22,162.01 L746.90,162.01 L747.58,162.02 L748.26,162.02 L748.94,162.03 L749.61,162.03 L750.29,162.04 L750.97,162.04 L751.65,162.05 L752.33,162.05 L753.01,162.06 L753.69,162.06 L754.37,162.07 L755.05,162.07 L755.72,162.08 L756.40,162.08 L757.08,162.09 L757.76,162.10 L758.44,162.10 L759.12,162.11 L759.80,162.11 L760.48,162.12 L761.15,162.12 L761.83,162.13 L762.51,162.13 L763.19,162.14 L763.87,162.14 L764.55,162.15 L765.23,162.15 L765.91,162.16 L766.59,162.17 L767.26,162.17 L767.94,162.18 L768.62,162.18 L769.30,162.19 L769.98,162.19 L770.66,162.20 L771.34,162.21 L772.02,162.21 L772.70,162.22 L773.37,162.22 L774.05,162.23 L774.73,162.23 L775.41,162.24 L776.09,162.25 L776.77,162.25 L777.45,162.26 L778.13,162.26 L778.81,162.27 L779.48,162.28 L780.16,162.28 L780.84,162.29 L781.52,162.29 L782.20,162.30 L782.88,162.31 L783.56,162.31 L784.24,162.32 L784.92,162.32 L785.59,162.33 L786.27,162.34 L786.95,162.34 L787.63,162.35 L788.31,162.35 L788.99,162.36 L789.67,162.37 L790.35,162.37 L791.03,162.38 L791.70,162.39 L792.38,162.39 L793.06,162.40 L793.74,162.40 L794.42,162.41 L795.10,162.42 L795.78,162.42 L796.46,162.43 L797.14,162.44 L797.81,162.44 L798.49,162.45 L799.17,162.46 L799.85,162.46 L800.53,162.47 L801.21,162.48 L801.89,162.48 L802.57,162.49 L803.24,162.50 L803.92,162.50 L804.60,162.51 L805.28,162.52 L805.96,162.52 L806.64,162.53 L807.32,162.53 L808.00,162.54 L808.68,162.55 L809.35,162.56 L810.03,162.56 L810.71,162.57 L811.39,162.58 L812.07,162.58 L812.75,162.59 L813.43,162.60 L814.11,162.60 L814.79,162.61 L815.46,162.62 L816.14,162.62 L816.82,162.63 L817.50,162.64 L818.18,162.64 L818.86,162.65 L819.54,162.66 L820.22,162.66 L820.90,162.67 L821.57,162.68 L822.25,162.69 L822.93,162.69 L823.61,162.70 L824.29,162.71 L824.97,162.71 L825.65,162.72 L826.33,162.73 L827.01,162.73 L827.68,162.74 L828.36,162.75 L829.04,162.76 L829.72,162.76 L830.40,162.77 L831.08,162.78 L831.76,162.78 L832.44,162.79 L833.12,162.80 L833.79,162.81 L834.47,162.81 L835.15,162.82 L835.83,162.83 L836.51,162.83 L837.19,162.84 L837.87,162.85 L838.55,162.86 L839.23,162.86 L839.90,162.87 L840.58,162.88 L841.26,162.88 L841.94,162.89 L842.62,162.90 L843.30,162.91 L843.98,162.91 L844.66,162.92 L845.33,162.93 L846.01,162.94 L846.69,162.94 L847.37,162.95 L848.05,162.96 L848.73,162.96 L849.41,162.97 L850.09,162.98 L850.77,162.99 L851.44,162.99 L852.12,163.00 L852.80,163.01 L853.48,163.02 L854.16,163.02 L854.84,163.03 L855.52,163.04 L856.20,163.05 L856.88,163.05 L857.55,163.06 L858.23,163.07 L858.91,163.07 L859.59,163.08 L860.27,163.09 L860.95,163.10 L861.63,163.10 L862.31,163.11 L862.99,163.12 L863.66,163.13 L864.34,163.13 L865.02,163.14 L865.70,163.15 L866.38,163.16 L867.06,163.16 L867.74,163.17 L868.42,163.18 L869.10,163.19 L869.77,163.19 L870.45,163.20 L871.13,163.21 L871.81,163.22 L872.49,163.22 L873.17,163.23 L873.85,163.24 L874.53,163.25 L875.21,163.25 L875.88,163.26 L876.56,163.27 L877.24,163.28 L877.92,163.28 L878.60,163.29 L879.28,163.30 L879.96,163.31 L880.64,163.31 L881.31,163.32 L881.99,163.33 L882.67,163.34 L883.35,163.34 L884.03,163.35 L884.71,163.36 L885.39,163.37 L886.07,163.37 L886.75,163.38 L887.42,163.39 L888.10,163.40 L888.78,163.40 L889.46,163.41 L890.14,163.42 L890.82,163.43 L891.50,163.43 L892.18,163.44 L892.86,163.45 L893.53,163.46 L894.21,163.46 L894.89,163.47 L895.57,163.48 L896.25,163.48 L896.93,163.49 L897.61,163.50 L898.29,163.51 L898.97,163.51 L899.64,163.52 L900.32,163.53 L901.00,163.54 L901.68,163.54 L902.36,163.55 L903.04,163.56 L903.72,163.57 L904.40,163.57 L905.08,163.58 L905.75,163.59 L906.43,163.60 L907.11,163.60 L907.79,163.61 L908.47,163.62 L909.15,163.63 L909.83,163.63 L910.51,163.64 L911.19,163.65 L911.86,163.65 L912.54,163.66 L913.22,163.67 L913.90,163.68 L914.58,163.68 L915.26,163.69 L915.94,163.70 L916.62,163.71 L917.30,163.71 L917.97,163.72 L918.65,163.73 L919.33,163.73 L920.01,163.74 L920.69,163.75 L921.37,163.76 L922.05,163.76 L922.73,163.77 L923.40,163.78 L924.08,163.78 L924.76,163.79 L925.44,163.80 L926.12,163.81 L926.80,163.81 L927.48,163.82 L928.16,163.83 L928.84,163.83 L929.51,163.84 L930.19,163.85 L930.87,163.86 L931.55,163.86 L932.23,163.87 L932.91,163.88 L933.59,163.88 L934.27,163.89 L934.95,163.90 L935.62,163.90 L936.30,163.91 L936.98,163.92 L937.66,163.93 L938.34,163.93 L939.02,163.94 L939.70,163.95 L940.38,163.95 L941.06,163.96 L941.73,163.97 L942.41,163.97 L943.09,163.98 L943.77,163.99 L944.45,163.99 L945.13,164.00 L945.81,164.01 L946.49,164.02 L947.17,164.02 L947.84,164.03 L948.52,164.04 L949.20,164.04 L949.88,164.05 L950.56,164.06 L951.24,164.06 L951.92,164.07 L952.60,164.08 L953.28,164.08 L953.95,164.09 L954.63,164.10 L955.31,164.10 L955.99,164.11 L956.67,164.12 L957.35,164.12 L958.03,164.13 L958.71,164.13 L959.39,164.14 L960.06,164.15 L960.74,164.15 L961.42,164.16 L962.10,164.17 L962.78,164.17 L963.46,164.18 L964.14,164.19 L964.82,164.19 L965.49,164.20 L966.17,164.21 L966.85,164.21 L967.53,164.22 L968.21,164.22 L968.89,164.23 L969.57,164.24 L970.25,164.24 L970.93,164.25 L971.60,164.26 L972.28,164.26 L972.96,164.27 L973.64,164.27 L974.32,164.28 L975.00,164.29 L975.68,164.29 L976.36,164.30 L977.04,164.30 L977.71,164.31 L978.39,164.32 L979.07,164.32 L979.75,164.33 L980.43,164.33 L981.11,164.34 L981.79,164.35 L982.47,164.35 L983.15,164.36 L983.82,164.36 L984.50,164.37 L985.18,164.38 L985.86,164.38 L986.54,164.39 L987.22,164.39 L987.90,164.40 L988.58,164.40 L989.26,164.41 L989.93,164.42 L990.61,164.42 L991.29,164.43 L991.97,164.43 L992.65,164.44 L993.33,164.44 L994.01,164.45 L994.69,164.45 L995.37,164.46 L996.04,164.46 L996.72,164.47 L997.40,164.48 L998.08,164.48 L998.76,164.49 L999.44,164.49 L1000.12,164.50 L1000.80,164.50 L1001.48,164.51 L1002.15,164.51 L1002.83,164.52 L1003.51,164.52 L1004.19,164.53 L1004.87,164.53 L1005.55,164.54 L1006.23,164.54 L1006.91,164.55 L1007.58,164.55 L1008.26,164.56 L1008.94,164.56 L1009.62,164.57 L1010.30,164.57 L1010.98,164.58 L1011.66,164.58 L1012.34,164.59 L1013.02,164.59 L1013.69,164.60 L1014.37,164.60 L1015.05,164.61 L1015.73,164.61 L1016.41,164.62 L1017.09,164.62 L1017.77,164.63 L1018.45,164.63 L1019.13,164.64 L1019.80,164.64 L1020.48,164.65 L1021.16,164.65 L1021.84,164.65 L1022.52,164.66 L1023.20,164.66 L1023.88,164.67 L1024.56,164.67 L1025.24,164.68 L1025.91,164.68 L1026.59,164.69 L1027.27,164.69 L1027.95,164.69 L1028.63,164.70 L1029.31,164.70 L1029.99,164.71 L1030.67,164.71 L1031.35,164.72 L1032.02,164.72 L1032.70,164.72 L1033.38,164.73 L1034.06,164.73 L1034.74,164.74 L1035.42,164.74 L1036.10,164.74 L1036.78,164.75 L1037.46,164.75 L1038.13,164.76 L1038.81,164.76 L1039.49,164.76 L1040.17,164.77 L1040.85,164.77 L1041.53,164.77 L1042.21,164.78 L1042.89,164.78 L1043.57,164.79 L1044.24,164.79 L1044.92,164.79 L1045.60,164.80 L1046.28,164.80 L1046.96,164.80 L1047.64,164.81 L1048.32,164.81 L1049.00,164.81 L1049.67,164.82 L1050.35,164.82 L1051.03,164.82 L1051.71,164.83 L1052.39,164.83 L1053.07,164.83 L1053.75,164.84 L1054.43,164.84 L1055.11,164.84 L1055.78,164.85 L1056.46,164.85 L1057.14,164.85 L1057.82,164.86 L1058.50,164.86 L1059.18,164.86 L1059.86,164.86 L1060.54,164.87 L1061.22,164.87 L1061.89,164.87 L1062.57,164.88 L1063.25,164.88 L1063.93,164.88 L1064.61,164.88 L1065.29,164.89 L1065.97,164.89 L1066.65,164.89 L1067.33,164.89 L1068.00,164.90 L1068.68,164.90 L1069.36,164.90 L1070.04,164.90 L1070.72,164.91 L1071.40,164.91 L1072.08,164.91 L1072.76,164.91 L1073.44,164.92 L1074.11,164.92 L1074.79,164.92 L1075.47,164.92 L1076.15,164.93 L1076.83,164.93 L1077.51,164.93 L1078.19,164.93 L1078.87,164.93 L1079.55,164.94 L1080.22,164.94 L1080.90,164.94 L1081.58,164.94 L1082.26,164.94 L1082.94,164.95 L1083.62,164.95 L1084.30,164.95 L1084.98,164.95 L1085.66,164.95 L1086.33,164.95 L1087.01,164.96 L1087.69,164.96 L1088.37,164.96 L1089.05,164.96 L1089.73,164.96 L1090.41,164.96 L1091.09,164.97 L1091.76,164.97 L1092.44,164.97 L1093.12,164.97 L1093.80,164.97 L1094.48,164.97 L1095.16,164.97 L1095.84,164.98 L1096.52,164.98 L1097.20,164.98 L1097.87,164.98 L1098.55,164.98 L1099.23,164.98 L1099.91,164.98 L1100.59,164.98 L1101.27,164.98 L1101.95,164.99 L1102.63,164.99 L1103.31,164.99 L1103.98,164.99 L1104.66,164.99 L1105.34,164.99 L1106.02,164.99 L1106.70,164.99 L1107.38,164.99 L1108.06,164.99 L1108.74,164.99 L1109.42,164.99 L1110.09,164.99 L1110.77,165.00 L1111.45,165.00 L1112.13,165.00 L1112.81,165.00 L1113.49,165.00 L1114.17,165.00 L1114.85,165.00 L1115.53,165.00 L1116.20,165.00 L1116.88,165.00 L1117.56,165.00 L1118.24,165.00 L1118.92,165.00 L1119.60,165.00 L1120.28,165.00 L1120.96,165.00 L1121.64,165.00 L1122.31,165.00 L1122.99,165.00 L1123.67,165.00 L1124.35,165.00 L1125.03,165.00 L1125.71,165.00 L1126.39,165.00 L1127.07,165.00 L1127.74,165.00 L1128.42,165.00 L1129.10,165.00 L1129.78,165.00 L1130.46,165.00 L1131.14,165.00 L1131.82,165.00 L1132.50,165.00 L1133.18,165.00 L1133.85,165.00 L1134.53,164.99 L1135.21,164.99 L1135.89,164.99 L1136.57,164.99 L1137.25,164.99 L1137.93,164.99 L1138.61,164.99 L1139.29,164.99 L1139.96,164.99 L1140.64,164.99 L1141.32,164.99 L1142.00,164.99 L1142.68,164.98 L1143.36,164.98 L1144.04,164.98 L1144.72,164.98 L1145.40,164.98 L1146.07,164.98 L1146.75,164.98 L1147.43,164.98 L1148.11,164.98 L1148.79,164.97 L1149.47,164.97 L1150.15,164.97 L1150.83,164.97 L1151.51,164.97 L1152.18,164.97 L1152.86,164.97 L1153.54,164.96 L1154.22,164.96 L1154.90,164.96 L1155.58,164.96 L1156.26,164.96 L1156.94,164.96 L1157.62,164.96 L1158.29,164.95 L1158.97,164.95 L1159.65,164.95 L1160.33,164.95 L1161.01,164.95 L1161.69,164.94 L1162.37,164.94 L1163.05,164.94 L1163.73,164.94 L1164.40,164.94 L1165.08,164.93 L1165.76,164.93 L1166.44,164.93 L1167.12,164.93 L1167.80,164.93 L1168.48,164.92 L1169.16,164.92 L1169.83,164.92 L1170.51,164.92 L1171.19,164.91 L1171.87,164.91 L1172.55,164.91 L1173.23,164.91 L1173.91,164.91 L1174.59,164.90 L1175.27,164.90 L1175.94,164.90 L1176.62,164.90 L1177.30,164.89 L1177.98,164.89 L1178.66,164.89 L1179.34,164.88 L1180.02,164.88 L1180.70,164.88 L1181.38,164.88 L1182.05,164.87 L1182.73,164.87 L1183.41,164.87 L1184.09,164.86 L1184.77,164.86 L1185.45,164.86 L1186.13,164.86 L1186.81,164.85 L1187.49,164.85 L1188.16,164.85 L1188.84,164.84 L1189.52,164.84 L1190.20,164.84 L1190.88,164.83 L1191.56,164.83 L1192.24,164.83 L1192.92,164.82 L1193.60,164.82 L1194.27,164.82 L1194.95,164.81 L1195.63,164.81 L1196.31,164.81 L1196.99,164.80 L1197.67,164.80 L1198.35,164.80 L1199.03,164.79 L1199.71,164.79 L1200.38,164.79 L1201.06,164.78 L1201.74,164.78 L1202.42,164.78 L1203.10,164.77 L1203.78,164.77 L1204.46,164.76 L1205.14,164.76 L1205.82,164.76 L1206.49,164.75 L1207.17,164.75 L1207.85,164.74 L1208.53,164.74 L1209.21,164.74 L1209.89,164.73 L1210.57,164.73 L1211.25,164.72 L1211.92,164.72 L1212.60,164.72 L1213.28,164.71 L1213.96,164.71 L1214.64,164.70 L1215.32,164.70 L1216.00,164.70 L1216.68,164.69 L1217.36,164.69 L1218.03,164.68 L1218.71,164.68 L1219.39,164.67 L1220.07,164.67 L1220.75,164.66 L1221.43,164.66 L1222.11,164.66 L1222.79,164.65 L1223.47,164.65 L1224.14,164.64 L1224.82,164.64 L1225.50,164.63 L1226.18,164.63 L1226.86,164.62 L1227.54,164.62 L1228.22,164.61 L1228.90,164.61 L1229.58,164.60 L1230.25,164.60 L1230.93,164.59 L1231.61,164.59 L1232.29,164.59 L1232.97,164.58 L1233.65,164.58 L1234.33,164.57 L1235.01,164.57 L1235.69,164.56 L1236.36,164.56 L1237.04,164.55 L1237.72,164.55 L1238.40,164.54 L1239.08,164.54 L1239.76,164.53 L1240.44,164.52 L1241.12,164.52 L1241.80,164.51 L1242.47,164.51 L1243.15,164.50 L1243.83,164.50 L1244.51,164.49 L1245.19,164.49 L1245.87,164.48 L1246.55,164.48 L1247.23,164.47 L1247.91,164.47 L1248.58,164.46 L1249.26,164.46 L1249.94,164.45 L1250.62,164.44 L1251.30,164.44 L1251.98,164.43 L1252.66,164.43 L1253.34,164.42 L1254.01,164.42 L1254.69,164.41 L1255.37,164.41 L1256.05,164.40 L1256.73,164.39 L1257.41,164.39 L1258.09,164.38 L1258.77,164.38 L1259.45,164.37 L1260.12,164.36 L1260.80,164.36 L1261.48,164.35 L1262.16,164.35 L1262.84,164.34 L1263.52,164.34 L1264.20,164.33 L1264.88,164.32 L1265.56,164.32 L1266.23,164.31 L1266.91,164.31 L1267.59,164.30 L1268.27,164.29 L1268.95,164.29 L1269.63,164.28 L1270.31,164.28 L1270.99,164.27 L1271.67,164.26 L1272.34,164.26 L1273.02,164.25 L1273.70,164.24 L1274.38,164.24 L1275.06,164.23 L1275.74,164.23 L1276.42,164.22 L1277.10,164.21 L1277.78,164.21 L1278.45,164.20 L1279.13,164.19 L1279.81,164.19 L1280.49,164.18 L1281.17,164.18 L1281.85,164.17 L1282.53,164.16 L1283.21,164.16 L1283.89,164.15 L1284.56,164.14 L1285.24,164.14 L1285.92,164.13 L1286.60,164.12 L1287.28,164.12 L1287.96,164.11 L1288.64,164.10 L1289.32,164.10 L1290.00,164.09 L1290.67,164.08 L1291.35,164.08 L1292.03,164.07 L1292.71,164.06 L1293.39,164.06 L1294.07,164.05 L1294.75,164.04 L1295.43,164.04 L1296.10,164.03 L1296.78,164.02 L1297.46,164.02 L1298.14,164.01 L1298.82,164.00 L1299.50,164.00 L1300.18,163.99 L1300.86,163.98 L1301.54,163.98 L1302.21,163.97 L1302.89,163.96 L1303.57,163.96 L1304.25,163.95 L1304.93,163.94 L1305.61,163.93 L1306.29,163.93 L1306.97,163.92 L1307.65,163.91 L1308.32,163.91 L1309.00,163.90 L1309.68,163.89 L1310.36,163.89 L1311.04,163.88 L1311.72,163.87 L1312.40,163.86 L1313.08,163.86 L1313.76,163.85 L1314.43,163.84 L1315.11,163.84 L1315.79,163.83 L1316.47,163.82 L1317.15,163.82 L1317.83,163.81 L1318.51,163.80 L1319.19,163.79 L1319.87,163.79 L1320.54,163.78 L1321.22,163.77 L1321.90,163.77 L1322.58,163.76 L1323.26,163.75 L1323.94,163.74 L1324.62,163.74 L1325.30,163.73 L1325.98,163.72 L1326.65,163.71 L1327.33,163.71 L1328.01,163.70 L1328.69,163.69 L1329.37,163.69 L1330.05,163.68 L1330.73,163.67 L1331.41,163.66 L1332.08,163.66 L1332.76,163.65 L1333.44,163.64 L1334.12,163.63 L1334.80,163.63 L1335.48,163.62 L1336.16,163.61 L1336.84,163.60 L1337.52,163.60 L1338.19,163.59 L1338.87,163.58 L1339.55,163.58 L1340.23,163.57 L1340.91,163.56 L1341.59,163.55 L1342.27,163.55 L1342.95,163.54 L1343.63,163.53 L1344.30,163.52 L1344.98,163.52 L1345.66,163.51 L1346.34,163.50 L1347.02,163.49 L1347.70,163.49 L1348.38,163.48 L1349.06,163.47 L1349.74,163.46 L1350.41,163.46 L1351.09,163.45 L1351.77,163.44 L1352.45,163.43 L1353.13,163.43 L1353.81,163.42 L1354.49,163.41 L1355.17,163.40 L1355.85,163.40 L1356.52,163.39 L1357.20,163.38 L1357.88,163.38 L1358.56,163.37 L1359.24,163.36 L1359.92,163.35 L1360.60,163.35 L1361.28,163.34 L1361.96,163.33 L1362.63,163.32 L1363.31,163.32 L1363.99,163.31 L1364.67,163.30 L1365.35,163.29 L1366.03,163.29 L1366.71,163.28 L1367.39,163.27 L1368.07,163.26 L1368.74,163.26" fill="none" stroke="#00f" stroke-width="6.8" stroke-linejoin="round" stroke-linecap="round"/>
<path d="M151.50,150.40 L165.70,173.10 L137.30,173.10Z" fill="#00f"/>
<path d="M212.16,150.27 L226.36,172.97 L197.96,172.97Z" fill="#00f"/>
<path d="M272.82,149.90 L287.02,172.60 L258.62,172.60Z" fill="#00f"/>
<path d="M333.48,149.35 L347.68,172.05 L319.28,172.05Z" fill="#00f"/>
<path d="M394.14,148.70 L408.34,171.40 L379.94,171.40Z" fill="#00f"/>
<path d="M454.80,148.05 L469.00,170.75 L440.60,170.75Z" fill="#00f"/>
<path d="M515.46,147.50 L529.66,170.20 L501.26,170.20Z" fill="#00f"/>
<path d="M576.12,147.13 L590.32,169.83 L561.92,169.83Z" fill="#00f"/>
<path d="M636.78,147.00 L650.98,169.70 L622.58,169.70Z" fill="#00f"/>
<path d="M697.44,147.13 L711.64,169.83 L683.24,169.83Z" fill="#00f"/>
<path d="M758.10,147.50 L772.30,170.20 L743.90,170.20Z" fill="#00f"/>
<path d="M818.76,148.05 L832.96,170.75 L804.56,170.75Z" fill="#00f"/>
<path d="M879.42,148.70 L893.62,171.40 L865.22,171.40Z" fill="#00f"/>
<path d="M940.08,149.35 L954.28,172.05 L925.88,172.05Z" fill="#00f"/>
<path d="M1000.74,149.90 L1014.94,172.60 L986.54,172.60Z" fill="#00f"/>
<path d="M1061.40,150.27 L1075.60,172.97 L1047.20,172.97Z" fill="#00f"/>
<path d="M1122.06,150.40 L1136.26,173.10 L1107.86,173.10Z" fill="#00f"/>
<path d="M1182.72,150.27 L1196.92,172.97 L1168.52,172.97Z" fill="#00f"/>
<path d="M1243.38,149.90 L1257.58,172.60 L1229.18,172.60Z" fill="#00f"/>
<path d="M1304.04,149.35 L1318.24,172.05 L1289.84,172.05Z" fill="#00f"/>
<path d="M1364.70,148.70 L1378.90,171.40 L1350.50,171.40Z" fill="#00f"/>
</g>
<rect x="1050.9" y="731.6" width="315.9" height="178.6" fill="#fff" stroke="#000" stroke-width="1.8"/>
<path d="M1060.4,761.7 H1142" stroke="#000" stroke-width="6.6" stroke-linecap="round"/>
<rect x="1090" y="751.70" width="22.5" height="20.9" fill="#000"/>
<g font-family="Liberation Serif" fill="#000"><g transform="translate(0,0.00)"><path fill-rule="evenodd" d="M1152.4,766.6 a6.6,7.45 0 1,0 13.2,0 a6.6,7.45 0 1,0 -13.2,0 Z M1156.2,767 a3.8,6 0 1,0 7.6,0 a3.8,6 0 1,0 -7.6,0 Z"/><path d="M1169.3,761 C1168.3,763.4 1166.4,766.5 1166,769 C1165.8,771.6 1166.7,773.5 1168.3,773.5 C1169.8,773.5 1171.1,772 1171.6,770.4" fill="none" stroke="#000" stroke-width="2" stroke-linecap="round"/><path d="M1167.9,762 C1168.2,760.3 1169.5,759.8 1170.3,760.3 C1170.9,760.8 1170.5,762 1169.5,763.6 Z"/></g><text transform="translate(1172.7,774.70) scale(0.9,1)" font-size="32.2" stroke="#000" stroke-width="0.45">A</text><text transform="translate(1191.2,755.60) scale(1.12,1)" font-size="19.6">2</text><text transform="translate(1191.2,787.40) scale(1.05,1)" font-size="20.1">00</text></g>
<text transform="translate(1211.5,774.20) scale(1.011,1)" font-family="Liberation Sans" font-size="34.5" stroke="#000" stroke-width="0.25">=0.001</text>
<path d="M1060.4,821.4 H1142" stroke="#f00" stroke-width="6.6" stroke-linecap="round"/>
<ellipse cx="1101.3" cy="821.40" rx="11.6" ry="11.3" fill="#f00"/>
<g font-family="Liberation Serif" fill="#000"><g transform="translate(0,59.70)"><path fill-rule="evenodd" d="M1152.4,766.6 a6.6,7.45 0 1,0 13.2,0 a6.6,7.45 0 1,0 -13.2,0 Z M1156.2,767 a3.8,6 0 1,0 7.6,0 a3.8,6 0 1,0 -7.6,0 Z"/><path d="M1169.3,761 C1168.3,763.4 1166.4,766.5 1166,769 C1165.8,771.6 1166.7,773.5 1168.3,773.5 C1169.8,773.5 1171.1,772 1171.6,770.4" fill="none" stroke="#000" stroke-width="2" stroke-linecap="round"/><path d="M1167.9,762 C1168.2,760.3 1169.5,759.8 1170.3,760.3 C1170.9,760.8 1170.5,762 1169.5,763.6 Z"/></g><text transform="translate(1172.7,834.40) scale(0.9,1)" font-size="32.2" stroke="#000" stroke-width="0.45">A</text><text transform="translate(1191.2,815.30) scale(1.12,1)" font-size="19.6">2</text><text transform="translate(1191.2,847.10) scale(1.05,1)" font-size="20.1">00</text></g>
<text transform="translate(1211.5,833.90) scale(1.049,1)" font-family="Liberation Sans" font-size="34.5" stroke="#000" stroke-width="0.25">=0.00025</text>
<path d="M1060.4,880.9 H1142" stroke="#00f" stroke-width="6.6" stroke-linecap="round"/>
<path d="M1101,865.70 L1115.8,889.30 L1086,889.30Z" fill="#00f"/>
<g font-family="Liberation Serif" fill="#000"><g transform="translate(0,119.20)"><path fill-rule="evenodd" d="M1152.4,766.6 a6.6,7.45 0 1,0 13.2,0 a6.6,7.45 0 1,0 -13.2,0 Z M1156.2,767 a3.8,6 0 1,0 7.6,0 a3.8,6 0 1,0 -7.6,0 Z"/><path d="M1169.3,761 C1168.3,763.4 1166.4,766.5 1166,769 C1165.8,771.6 1166.7,773.5 1168.3,773.5 C1169.8,773.5 1171.1,772 1171.6,770.4" fill="none" stroke="#000" stroke-width="2" stroke-linecap="round"/><path d="M1167.9,762 C1168.2,760.3 1169.5,759.8 1170.3,760.3 C1170.9,760.8 1170.5,762 1169.5,763.6 Z"/></g><text transform="translate(1172.7,893.90) scale(0.9,1)" font-size="32.2" stroke="#000" stroke-width="0.45">A</text><text transform="translate(1191.2,874.80) scale(1.12,1)" font-size="19.6">2</text><text transform="translate(1191.2,906.60) scale(1.05,1)" font-size="20.1">00</text></g>
<text transform="translate(1211.5,893.40) scale(1.046,1)" font-family="Liberation Sans" font-size="34.5" stroke="#000" stroke-width="0.25">=0.0027</text>
<text transform="translate(34.7,732) rotate(-90) scale(1.003,1.07)" font-family="Liberation Sans" font-size="43" fill="#000" stroke="#000" stroke-width="0.3">beam width parameter (f)</text>
<path d="M18.4,243.5 V140" stroke="#000" stroke-width="2.4"/>
<path d="M18.4,120.6 L25,144.5 L11.8,144.5Z" fill="#000"/>
<path d="M16.4,741 V830.5" stroke="#000" stroke-width="2.2"/>
<path d="M604,1025.8 H727.7" stroke="#000" stroke-width="2.2"/>
<path d="M792,1028.1 H910" stroke="#000" stroke-width="2.2"/>
<path d="M930.3,1028.1 L905,1022.4 L905,1034Z" fill="#000"/>
<g fill="none" stroke="#000" stroke-linecap="round"><path d="M757.2,1013.4 C754.6,1013.3 752.2,1015 752.6,1017.3 C753,1019.2 755,1019.9 756.6,1019.6" stroke-width="1.7"/><path d="M756,1019.6 C760,1017.4 764,1015.6 767.6,1014.6" stroke-width="2.2"/><path d="M762,1017 C764.5,1015.8 766.5,1014.9 768.2,1014.7" stroke-width="3.4"/><path d="M757,1019.6 C751.5,1024.5 748,1030.5 747.9,1037 C747.8,1041 749.5,1044 752.8,1045.2" stroke-width="2.5"/><path d="M750.5,1043.6 C752.5,1045.4 755,1045.9 758.5,1045.7 C761.5,1045.5 764,1045 766,1045.7 C768.6,1046.6 769.6,1048.6 769.3,1051" stroke-width="4.4"/><path d="M769.3,1050.5 C768.9,1054 766.2,1056.4 762.8,1056.6 C761.3,1056.7 760.3,1056.5 759.4,1056.2" stroke-width="2.8"/></g>
</svg>
</body></html>
